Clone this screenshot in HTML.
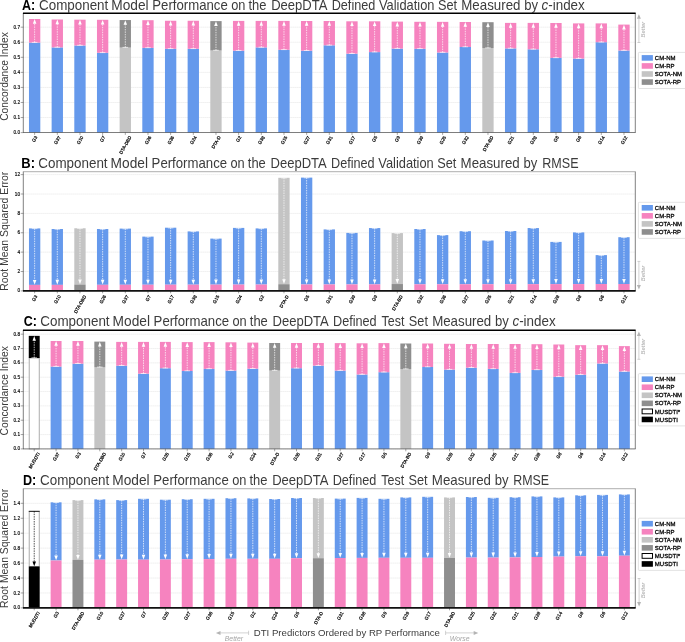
<!DOCTYPE html>
<html><head><meta charset="utf-8"><title>Component Model Performance</title>
<style>
html,body{margin:0;padding:0;background:#fff;}
body{width:685px;height:642px;overflow:hidden;}
svg{display:block;font-family:"Liberation Sans",sans-serif;}
</style></head><body>
<svg width="685" height="642" viewBox="0 0 685 642">
<rect width="685" height="642" fill="#fff"/>
<line x1="23.3" x2="635.3" y1="132.60" y2="132.60" stroke="#d4d4d4" stroke-width="0.5" stroke-dasharray="1.2 0.8"/>
<line x1="23.3" x2="635.3" y1="117.54" y2="117.54" stroke="#d4d4d4" stroke-width="0.5" stroke-dasharray="1.2 0.8"/>
<line x1="23.3" x2="635.3" y1="102.48" y2="102.48" stroke="#d4d4d4" stroke-width="0.5" stroke-dasharray="1.2 0.8"/>
<line x1="23.3" x2="635.3" y1="87.42" y2="87.42" stroke="#d4d4d4" stroke-width="0.5" stroke-dasharray="1.2 0.8"/>
<line x1="23.3" x2="635.3" y1="72.36" y2="72.36" stroke="#d4d4d4" stroke-width="0.5" stroke-dasharray="1.2 0.8"/>
<line x1="23.3" x2="635.3" y1="57.30" y2="57.30" stroke="#d4d4d4" stroke-width="0.5" stroke-dasharray="1.2 0.8"/>
<line x1="23.3" x2="635.3" y1="42.24" y2="42.24" stroke="#d4d4d4" stroke-width="0.5" stroke-dasharray="1.2 0.8"/>
<line x1="23.3" x2="635.3" y1="27.18" y2="27.18" stroke="#d4d4d4" stroke-width="0.5" stroke-dasharray="1.2 0.8"/>
<rect x="28.97" y="42.60" width="11.33" height="89.90" fill="#6599ec"/>
<rect x="28.97" y="19.00" width="11.33" height="23.60" fill="#f683bf"/>
<line x1="34.63" x2="34.63" y1="42.60" y2="22.00" stroke="#fff" stroke-width="0.68" stroke-dasharray="1.5 0.95"/>
<path d="M34.63 19.10 L36.38 23.80 L32.88 23.80 Z" fill="#fff"/>
<line x1="31.83" x2="37.43" y1="42.40" y2="42.40" stroke="#fff" stroke-width="0.65"/>
<rect x="51.63" y="47.40" width="11.33" height="85.10" fill="#6599ec"/>
<rect x="51.63" y="19.50" width="11.33" height="27.90" fill="#f683bf"/>
<line x1="57.30" x2="57.30" y1="47.40" y2="22.50" stroke="#fff" stroke-width="0.68" stroke-dasharray="1.5 0.95"/>
<path d="M57.30 19.60 L59.05 24.30 L55.55 24.30 Z" fill="#fff"/>
<line x1="54.50" x2="60.10" y1="47.20" y2="47.20" stroke="#fff" stroke-width="0.65"/>
<rect x="74.30" y="45.50" width="11.33" height="87.00" fill="#6599ec"/>
<rect x="74.30" y="19.70" width="11.33" height="25.80" fill="#f683bf"/>
<line x1="79.97" x2="79.97" y1="45.50" y2="22.70" stroke="#fff" stroke-width="0.68" stroke-dasharray="1.5 0.95"/>
<path d="M79.97 19.80 L81.72 24.50 L78.22 24.50 Z" fill="#fff"/>
<line x1="77.17" x2="82.77" y1="45.30" y2="45.30" stroke="#fff" stroke-width="0.65"/>
<rect x="96.97" y="52.80" width="11.33" height="79.70" fill="#6599ec"/>
<rect x="96.97" y="19.80" width="11.33" height="33.00" fill="#f683bf"/>
<line x1="102.63" x2="102.63" y1="52.80" y2="22.80" stroke="#fff" stroke-width="0.68" stroke-dasharray="1.5 0.95"/>
<path d="M102.63 19.90 L104.38 24.60 L100.88 24.60 Z" fill="#fff"/>
<line x1="99.83" x2="105.43" y1="52.60" y2="52.60" stroke="#fff" stroke-width="0.65"/>
<rect x="119.63" y="47.60" width="11.33" height="84.90" fill="#c4c4c4"/>
<rect x="119.63" y="20.05" width="11.33" height="27.55" fill="#8e8e8e"/>
<line x1="125.30" x2="125.30" y1="47.60" y2="23.05" stroke="#fff" stroke-width="0.68" stroke-dasharray="1.5 0.95"/>
<path d="M125.30 20.15 L127.05 24.85 L123.55 24.85 Z" fill="#fff"/>
<line x1="122.50" x2="128.10" y1="47.40" y2="47.40" stroke="#fff" stroke-width="0.65"/>
<rect x="142.30" y="47.90" width="11.33" height="84.60" fill="#6599ec"/>
<rect x="142.30" y="20.20" width="11.33" height="27.70" fill="#f683bf"/>
<line x1="147.97" x2="147.97" y1="47.90" y2="23.20" stroke="#fff" stroke-width="0.68" stroke-dasharray="1.5 0.95"/>
<path d="M147.97 20.30 L149.72 25.00 L146.22 25.00 Z" fill="#fff"/>
<line x1="145.17" x2="150.77" y1="47.70" y2="47.70" stroke="#fff" stroke-width="0.65"/>
<rect x="164.97" y="48.80" width="11.33" height="83.70" fill="#6599ec"/>
<rect x="164.97" y="20.75" width="11.33" height="28.05" fill="#f683bf"/>
<line x1="170.63" x2="170.63" y1="48.80" y2="23.75" stroke="#fff" stroke-width="0.68" stroke-dasharray="1.5 0.95"/>
<path d="M170.63 20.85 L172.38 25.55 L168.88 25.55 Z" fill="#fff"/>
<line x1="167.83" x2="173.43" y1="48.60" y2="48.60" stroke="#fff" stroke-width="0.65"/>
<rect x="187.63" y="48.80" width="11.33" height="83.70" fill="#6599ec"/>
<rect x="187.63" y="20.75" width="11.33" height="28.05" fill="#f683bf"/>
<line x1="193.30" x2="193.30" y1="48.80" y2="23.75" stroke="#fff" stroke-width="0.68" stroke-dasharray="1.5 0.95"/>
<path d="M193.30 20.85 L195.05 25.55 L191.55 25.55 Z" fill="#fff"/>
<line x1="190.50" x2="196.10" y1="48.60" y2="48.60" stroke="#fff" stroke-width="0.65"/>
<rect x="210.30" y="50.50" width="11.33" height="82.00" fill="#c4c4c4"/>
<rect x="210.30" y="21.10" width="11.33" height="29.40" fill="#8e8e8e"/>
<line x1="215.97" x2="215.97" y1="50.50" y2="24.10" stroke="#fff" stroke-width="0.68" stroke-dasharray="1.5 0.95"/>
<path d="M215.97 21.20 L217.72 25.90 L214.22 25.90 Z" fill="#fff"/>
<line x1="213.17" x2="218.77" y1="50.30" y2="50.30" stroke="#fff" stroke-width="0.65"/>
<rect x="232.97" y="50.70" width="11.33" height="81.80" fill="#6599ec"/>
<rect x="232.97" y="20.90" width="11.33" height="29.80" fill="#f683bf"/>
<line x1="238.63" x2="238.63" y1="50.70" y2="23.90" stroke="#fff" stroke-width="0.68" stroke-dasharray="1.5 0.95"/>
<path d="M238.63 21.00 L240.38 25.70 L236.88 25.70 Z" fill="#fff"/>
<line x1="235.83" x2="241.43" y1="50.50" y2="50.50" stroke="#fff" stroke-width="0.65"/>
<rect x="255.63" y="47.40" width="11.33" height="85.10" fill="#6599ec"/>
<rect x="255.63" y="20.90" width="11.33" height="26.50" fill="#f683bf"/>
<line x1="261.30" x2="261.30" y1="47.40" y2="23.90" stroke="#fff" stroke-width="0.68" stroke-dasharray="1.5 0.95"/>
<path d="M261.30 21.00 L263.05 25.70 L259.55 25.70 Z" fill="#fff"/>
<line x1="258.50" x2="264.10" y1="47.20" y2="47.20" stroke="#fff" stroke-width="0.65"/>
<rect x="278.30" y="49.80" width="11.33" height="82.70" fill="#6599ec"/>
<rect x="278.30" y="20.90" width="11.33" height="28.90" fill="#f683bf"/>
<line x1="283.97" x2="283.97" y1="49.80" y2="23.90" stroke="#fff" stroke-width="0.68" stroke-dasharray="1.5 0.95"/>
<path d="M283.97 21.00 L285.72 25.70 L282.22 25.70 Z" fill="#fff"/>
<line x1="281.17" x2="286.77" y1="49.60" y2="49.60" stroke="#fff" stroke-width="0.65"/>
<rect x="300.97" y="50.70" width="11.33" height="81.80" fill="#6599ec"/>
<rect x="300.97" y="21.00" width="11.33" height="29.70" fill="#f683bf"/>
<line x1="306.63" x2="306.63" y1="50.70" y2="24.00" stroke="#fff" stroke-width="0.68" stroke-dasharray="1.5 0.95"/>
<path d="M306.63 21.10 L308.38 25.80 L304.88 25.80 Z" fill="#fff"/>
<line x1="303.83" x2="309.43" y1="50.50" y2="50.50" stroke="#fff" stroke-width="0.65"/>
<rect x="323.63" y="45.30" width="11.33" height="87.20" fill="#6599ec"/>
<rect x="323.63" y="21.00" width="11.33" height="24.30" fill="#f683bf"/>
<line x1="329.30" x2="329.30" y1="45.30" y2="24.00" stroke="#fff" stroke-width="0.68" stroke-dasharray="1.5 0.95"/>
<path d="M329.30 21.10 L331.05 25.80 L327.55 25.80 Z" fill="#fff"/>
<line x1="326.50" x2="332.10" y1="45.10" y2="45.10" stroke="#fff" stroke-width="0.65"/>
<rect x="346.30" y="53.70" width="11.33" height="78.80" fill="#6599ec"/>
<rect x="346.30" y="21.30" width="11.33" height="32.40" fill="#f683bf"/>
<line x1="351.97" x2="351.97" y1="53.70" y2="24.30" stroke="#fff" stroke-width="0.68" stroke-dasharray="1.5 0.95"/>
<path d="M351.97 21.40 L353.72 26.10 L350.22 26.10 Z" fill="#fff"/>
<line x1="349.17" x2="354.77" y1="53.50" y2="53.50" stroke="#fff" stroke-width="0.65"/>
<rect x="368.97" y="52.10" width="11.33" height="80.40" fill="#6599ec"/>
<rect x="368.97" y="21.30" width="11.33" height="30.80" fill="#f683bf"/>
<line x1="374.63" x2="374.63" y1="52.10" y2="24.30" stroke="#fff" stroke-width="0.68" stroke-dasharray="1.5 0.95"/>
<path d="M374.63 21.40 L376.38 26.10 L372.88 26.10 Z" fill="#fff"/>
<line x1="371.83" x2="377.43" y1="51.90" y2="51.90" stroke="#fff" stroke-width="0.65"/>
<rect x="391.63" y="48.60" width="11.33" height="83.90" fill="#6599ec"/>
<rect x="391.63" y="21.60" width="11.33" height="27.00" fill="#f683bf"/>
<line x1="397.30" x2="397.30" y1="48.60" y2="24.60" stroke="#fff" stroke-width="0.68" stroke-dasharray="1.5 0.95"/>
<path d="M397.30 21.70 L399.05 26.40 L395.55 26.40 Z" fill="#fff"/>
<line x1="394.50" x2="400.10" y1="48.40" y2="48.40" stroke="#fff" stroke-width="0.65"/>
<rect x="414.30" y="48.80" width="11.33" height="83.70" fill="#6599ec"/>
<rect x="414.30" y="21.80" width="11.33" height="27.00" fill="#f683bf"/>
<line x1="419.97" x2="419.97" y1="48.80" y2="24.80" stroke="#fff" stroke-width="0.68" stroke-dasharray="1.5 0.95"/>
<path d="M419.97 21.90 L421.72 26.60 L418.22 26.60 Z" fill="#fff"/>
<line x1="417.17" x2="422.77" y1="48.60" y2="48.60" stroke="#fff" stroke-width="0.65"/>
<rect x="436.97" y="52.50" width="11.33" height="80.00" fill="#6599ec"/>
<rect x="436.97" y="21.85" width="11.33" height="30.65" fill="#f683bf"/>
<line x1="442.63" x2="442.63" y1="52.50" y2="24.85" stroke="#fff" stroke-width="0.68" stroke-dasharray="1.5 0.95"/>
<path d="M442.63 21.95 L444.38 26.65 L440.88 26.65 Z" fill="#fff"/>
<line x1="439.83" x2="445.43" y1="52.30" y2="52.30" stroke="#fff" stroke-width="0.65"/>
<rect x="459.63" y="47.00" width="11.33" height="85.50" fill="#6599ec"/>
<rect x="459.63" y="22.00" width="11.33" height="25.00" fill="#f683bf"/>
<line x1="465.30" x2="465.30" y1="47.00" y2="25.00" stroke="#fff" stroke-width="0.68" stroke-dasharray="1.5 0.95"/>
<path d="M465.30 22.10 L467.05 26.80 L463.55 26.80 Z" fill="#fff"/>
<line x1="462.50" x2="468.10" y1="46.80" y2="46.80" stroke="#fff" stroke-width="0.65"/>
<rect x="482.30" y="48.10" width="11.33" height="84.40" fill="#c4c4c4"/>
<rect x="482.30" y="22.20" width="11.33" height="25.90" fill="#8e8e8e"/>
<line x1="487.97" x2="487.97" y1="48.10" y2="25.20" stroke="#fff" stroke-width="0.68" stroke-dasharray="1.5 0.95"/>
<path d="M487.97 22.30 L489.72 27.00 L486.22 27.00 Z" fill="#fff"/>
<line x1="485.17" x2="490.77" y1="47.90" y2="47.90" stroke="#fff" stroke-width="0.65"/>
<rect x="504.97" y="48.40" width="11.33" height="84.10" fill="#6599ec"/>
<rect x="504.97" y="22.90" width="11.33" height="25.50" fill="#f683bf"/>
<line x1="510.63" x2="510.63" y1="48.40" y2="25.90" stroke="#fff" stroke-width="0.68" stroke-dasharray="1.5 0.95"/>
<path d="M510.63 23.00 L512.38 27.70 L508.88 27.70 Z" fill="#fff"/>
<line x1="507.83" x2="513.43" y1="48.20" y2="48.20" stroke="#fff" stroke-width="0.65"/>
<rect x="527.63" y="49.30" width="11.33" height="83.20" fill="#6599ec"/>
<rect x="527.63" y="22.90" width="11.33" height="26.40" fill="#f683bf"/>
<line x1="533.30" x2="533.30" y1="49.30" y2="25.90" stroke="#fff" stroke-width="0.68" stroke-dasharray="1.5 0.95"/>
<path d="M533.30 23.00 L535.05 27.70 L531.55 27.70 Z" fill="#fff"/>
<line x1="530.50" x2="536.10" y1="49.10" y2="49.10" stroke="#fff" stroke-width="0.65"/>
<rect x="550.30" y="57.90" width="11.33" height="74.60" fill="#6599ec"/>
<rect x="550.30" y="23.00" width="11.33" height="34.90" fill="#f683bf"/>
<line x1="555.97" x2="555.97" y1="57.90" y2="26.00" stroke="#fff" stroke-width="0.68" stroke-dasharray="1.5 0.95"/>
<path d="M555.97 23.10 L557.72 27.80 L554.22 27.80 Z" fill="#fff"/>
<line x1="553.17" x2="558.77" y1="57.70" y2="57.70" stroke="#fff" stroke-width="0.65"/>
<rect x="572.97" y="58.60" width="11.33" height="73.90" fill="#6599ec"/>
<rect x="572.97" y="23.40" width="11.33" height="35.20" fill="#f683bf"/>
<line x1="578.63" x2="578.63" y1="58.60" y2="26.40" stroke="#fff" stroke-width="0.68" stroke-dasharray="1.5 0.95"/>
<path d="M578.63 23.50 L580.38 28.20 L576.88 28.20 Z" fill="#fff"/>
<line x1="575.83" x2="581.43" y1="58.40" y2="58.40" stroke="#fff" stroke-width="0.65"/>
<rect x="595.63" y="42.20" width="11.33" height="90.30" fill="#6599ec"/>
<rect x="595.63" y="23.40" width="11.33" height="18.80" fill="#f683bf"/>
<line x1="601.30" x2="601.30" y1="42.20" y2="26.40" stroke="#fff" stroke-width="0.68" stroke-dasharray="1.5 0.95"/>
<path d="M601.30 23.50 L603.05 28.20 L599.55 28.20 Z" fill="#fff"/>
<line x1="598.50" x2="604.10" y1="42.00" y2="42.00" stroke="#fff" stroke-width="0.65"/>
<rect x="618.30" y="50.50" width="11.33" height="82.00" fill="#6599ec"/>
<rect x="618.30" y="24.60" width="11.33" height="25.90" fill="#f683bf"/>
<line x1="623.97" x2="623.97" y1="50.50" y2="27.60" stroke="#fff" stroke-width="0.68" stroke-dasharray="1.5 0.95"/>
<path d="M623.97 24.70 L625.72 29.40 L622.22 29.40 Z" fill="#fff"/>
<line x1="621.17" x2="626.77" y1="50.30" y2="50.30" stroke="#fff" stroke-width="0.65"/>
<line x1="23.3" x2="23.3" y1="13.3" y2="132.5" stroke="#4a4a4a" stroke-width="0.7"/>
<line x1="635.3" x2="635.3" y1="13.3" y2="132.5" stroke="#4a4a4a" stroke-width="0.7"/>
<line x1="22.95" x2="635.65" y1="132.5" y2="132.5" stroke="#4a4a4a" stroke-width="0.7"/>
<line x1="20.70" x2="23.3" y1="132.60" y2="132.60" stroke="#4a4a4a" stroke-width="0.5"/>
<text x="20.00" y="134.15" font-size="4.7" text-anchor="end" fill="#000" stroke="#000" stroke-width="0.15">0.0</text>
<line x1="20.70" x2="23.3" y1="117.54" y2="117.54" stroke="#4a4a4a" stroke-width="0.5"/>
<text x="20.00" y="119.09" font-size="4.7" text-anchor="end" fill="#000" stroke="#000" stroke-width="0.15">0.1</text>
<line x1="20.70" x2="23.3" y1="102.48" y2="102.48" stroke="#4a4a4a" stroke-width="0.5"/>
<text x="20.00" y="104.03" font-size="4.7" text-anchor="end" fill="#000" stroke="#000" stroke-width="0.15">0.2</text>
<line x1="20.70" x2="23.3" y1="87.42" y2="87.42" stroke="#4a4a4a" stroke-width="0.5"/>
<text x="20.00" y="88.97" font-size="4.7" text-anchor="end" fill="#000" stroke="#000" stroke-width="0.15">0.3</text>
<line x1="20.70" x2="23.3" y1="72.36" y2="72.36" stroke="#4a4a4a" stroke-width="0.5"/>
<text x="20.00" y="73.91" font-size="4.7" text-anchor="end" fill="#000" stroke="#000" stroke-width="0.15">0.4</text>
<line x1="20.70" x2="23.3" y1="57.30" y2="57.30" stroke="#4a4a4a" stroke-width="0.5"/>
<text x="20.00" y="58.85" font-size="4.7" text-anchor="end" fill="#000" stroke="#000" stroke-width="0.15">0.5</text>
<line x1="20.70" x2="23.3" y1="42.24" y2="42.24" stroke="#4a4a4a" stroke-width="0.5"/>
<text x="20.00" y="43.79" font-size="4.7" text-anchor="end" fill="#000" stroke="#000" stroke-width="0.15">0.6</text>
<line x1="20.70" x2="23.3" y1="27.18" y2="27.18" stroke="#4a4a4a" stroke-width="0.5"/>
<text x="20.00" y="28.73" font-size="4.7" text-anchor="end" fill="#000" stroke="#000" stroke-width="0.15">0.7</text>
<line x1="34.63" x2="34.63" y1="132.5" y2="134.90" stroke="#4a4a4a" stroke-width="0.5"/>
<text transform="translate(34.63 138.98) rotate(-60)" x="0" y="1.66" font-size="4.6" text-anchor="middle" fill="#000" stroke="#000" stroke-width="0.2">G3</text>
<line x1="57.30" x2="57.30" y1="132.5" y2="134.90" stroke="#4a4a4a" stroke-width="0.5"/>
<text transform="translate(57.30 140.09) rotate(-60)" x="0" y="1.66" font-size="4.6" text-anchor="middle" fill="#000" stroke="#000" stroke-width="0.2">G37</text>
<line x1="79.97" x2="79.97" y1="132.5" y2="134.90" stroke="#4a4a4a" stroke-width="0.5"/>
<text transform="translate(79.97 140.09) rotate(-60)" x="0" y="1.66" font-size="4.6" text-anchor="middle" fill="#000" stroke="#000" stroke-width="0.2">G10</text>
<line x1="102.63" x2="102.63" y1="132.5" y2="134.90" stroke="#4a4a4a" stroke-width="0.5"/>
<text transform="translate(102.63 138.98) rotate(-60)" x="0" y="1.66" font-size="4.6" text-anchor="middle" fill="#000" stroke="#000" stroke-width="0.2">G7</text>
<line x1="125.30" x2="125.30" y1="132.5" y2="134.90" stroke="#4a4a4a" stroke-width="0.5"/>
<text transform="translate(125.30 145.03) rotate(-60)" x="0" y="1.66" font-size="4.6" text-anchor="middle" fill="#000" stroke="#000" stroke-width="0.2">DTA-DBD</text>
<line x1="147.97" x2="147.97" y1="132.5" y2="134.90" stroke="#4a4a4a" stroke-width="0.5"/>
<text transform="translate(147.97 140.09) rotate(-60)" x="0" y="1.66" font-size="4.6" text-anchor="middle" fill="#000" stroke="#000" stroke-width="0.2">G26</text>
<line x1="170.63" x2="170.63" y1="132.5" y2="134.90" stroke="#4a4a4a" stroke-width="0.5"/>
<text transform="translate(170.63 140.09) rotate(-60)" x="0" y="1.66" font-size="4.6" text-anchor="middle" fill="#000" stroke="#000" stroke-width="0.2">G36</text>
<line x1="193.30" x2="193.30" y1="132.5" y2="134.90" stroke="#4a4a4a" stroke-width="0.5"/>
<text transform="translate(193.30 140.09) rotate(-60)" x="0" y="1.66" font-size="4.6" text-anchor="middle" fill="#000" stroke="#000" stroke-width="0.2">G24</text>
<line x1="215.97" x2="215.97" y1="132.5" y2="134.90" stroke="#4a4a4a" stroke-width="0.5"/>
<text transform="translate(215.97 142.27) rotate(-60)" x="0" y="1.66" font-size="4.6" text-anchor="middle" fill="#000" stroke="#000" stroke-width="0.2">DTA-D</text>
<line x1="238.63" x2="238.63" y1="132.5" y2="134.90" stroke="#4a4a4a" stroke-width="0.5"/>
<text transform="translate(238.63 138.98) rotate(-60)" x="0" y="1.66" font-size="4.6" text-anchor="middle" fill="#000" stroke="#000" stroke-width="0.2">G2</text>
<line x1="261.30" x2="261.30" y1="132.5" y2="134.90" stroke="#4a4a4a" stroke-width="0.5"/>
<text transform="translate(261.30 140.09) rotate(-60)" x="0" y="1.66" font-size="4.6" text-anchor="middle" fill="#000" stroke="#000" stroke-width="0.2">G38</text>
<line x1="283.97" x2="283.97" y1="132.5" y2="134.90" stroke="#4a4a4a" stroke-width="0.5"/>
<text transform="translate(283.97 140.09) rotate(-60)" x="0" y="1.66" font-size="4.6" text-anchor="middle" fill="#000" stroke="#000" stroke-width="0.2">G15</text>
<line x1="306.63" x2="306.63" y1="132.5" y2="134.90" stroke="#4a4a4a" stroke-width="0.5"/>
<text transform="translate(306.63 140.09) rotate(-60)" x="0" y="1.66" font-size="4.6" text-anchor="middle" fill="#000" stroke="#000" stroke-width="0.2">G27</text>
<line x1="329.30" x2="329.30" y1="132.5" y2="134.90" stroke="#4a4a4a" stroke-width="0.5"/>
<text transform="translate(329.30 140.09) rotate(-60)" x="0" y="1.66" font-size="4.6" text-anchor="middle" fill="#000" stroke="#000" stroke-width="0.2">G31</text>
<line x1="351.97" x2="351.97" y1="132.5" y2="134.90" stroke="#4a4a4a" stroke-width="0.5"/>
<text transform="translate(351.97 140.09) rotate(-60)" x="0" y="1.66" font-size="4.6" text-anchor="middle" fill="#000" stroke="#000" stroke-width="0.2">G17</text>
<line x1="374.63" x2="374.63" y1="132.5" y2="134.90" stroke="#4a4a4a" stroke-width="0.5"/>
<text transform="translate(374.63 138.98) rotate(-60)" x="0" y="1.66" font-size="4.6" text-anchor="middle" fill="#000" stroke="#000" stroke-width="0.2">G5</text>
<line x1="397.30" x2="397.30" y1="132.5" y2="134.90" stroke="#4a4a4a" stroke-width="0.5"/>
<text transform="translate(397.30 138.98) rotate(-60)" x="0" y="1.66" font-size="4.6" text-anchor="middle" fill="#000" stroke="#000" stroke-width="0.2">G9</text>
<line x1="419.97" x2="419.97" y1="132.5" y2="134.90" stroke="#4a4a4a" stroke-width="0.5"/>
<text transform="translate(419.97 140.09) rotate(-60)" x="0" y="1.66" font-size="4.6" text-anchor="middle" fill="#000" stroke="#000" stroke-width="0.2">G39</text>
<line x1="442.63" x2="442.63" y1="132.5" y2="134.90" stroke="#4a4a4a" stroke-width="0.5"/>
<text transform="translate(442.63 140.09) rotate(-60)" x="0" y="1.66" font-size="4.6" text-anchor="middle" fill="#000" stroke="#000" stroke-width="0.2">G25</text>
<line x1="465.30" x2="465.30" y1="132.5" y2="134.90" stroke="#4a4a4a" stroke-width="0.5"/>
<text transform="translate(465.30 140.09) rotate(-60)" x="0" y="1.66" font-size="4.6" text-anchor="middle" fill="#000" stroke="#000" stroke-width="0.2">G32</text>
<line x1="487.97" x2="487.97" y1="132.5" y2="134.90" stroke="#4a4a4a" stroke-width="0.5"/>
<text transform="translate(487.97 143.59) rotate(-60)" x="0" y="1.66" font-size="4.6" text-anchor="middle" fill="#000" stroke="#000" stroke-width="0.2">DTA-BD</text>
<line x1="510.63" x2="510.63" y1="132.5" y2="134.90" stroke="#4a4a4a" stroke-width="0.5"/>
<text transform="translate(510.63 140.09) rotate(-60)" x="0" y="1.66" font-size="4.6" text-anchor="middle" fill="#000" stroke="#000" stroke-width="0.2">G21</text>
<line x1="533.30" x2="533.30" y1="132.5" y2="134.90" stroke="#4a4a4a" stroke-width="0.5"/>
<text transform="translate(533.30 140.09) rotate(-60)" x="0" y="1.66" font-size="4.6" text-anchor="middle" fill="#000" stroke="#000" stroke-width="0.2">G28</text>
<line x1="555.97" x2="555.97" y1="132.5" y2="134.90" stroke="#4a4a4a" stroke-width="0.5"/>
<text transform="translate(555.97 138.98) rotate(-60)" x="0" y="1.66" font-size="4.6" text-anchor="middle" fill="#000" stroke="#000" stroke-width="0.2">G8</text>
<line x1="578.63" x2="578.63" y1="132.5" y2="134.90" stroke="#4a4a4a" stroke-width="0.5"/>
<text transform="translate(578.63 138.98) rotate(-60)" x="0" y="1.66" font-size="4.6" text-anchor="middle" fill="#000" stroke="#000" stroke-width="0.2">G6</text>
<line x1="601.30" x2="601.30" y1="132.5" y2="134.90" stroke="#4a4a4a" stroke-width="0.5"/>
<text transform="translate(601.30 140.09) rotate(-60)" x="0" y="1.66" font-size="4.6" text-anchor="middle" fill="#000" stroke="#000" stroke-width="0.2">G14</text>
<line x1="623.97" x2="623.97" y1="132.5" y2="134.90" stroke="#4a4a4a" stroke-width="0.5"/>
<text transform="translate(623.97 140.09) rotate(-60)" x="0" y="1.66" font-size="4.6" text-anchor="middle" fill="#000" stroke="#000" stroke-width="0.2">G12</text>
<line x1="22.95" x2="635.65" y1="13.3" y2="13.3" stroke="#000" stroke-width="1.4"/>
<text x="22.00" y="9.9" font-size="14.5" font-weight="bold" textLength="13.20" lengthAdjust="spacingAndGlyphs" fill="#000">A:</text>
<text x="39.00" y="9.9" font-size="14.5" textLength="69.30" lengthAdjust="spacingAndGlyphs" fill="#3c3c3c">Component</text>
<text x="111.30" y="9.9" font-size="14.5" textLength="37.38" lengthAdjust="spacingAndGlyphs" fill="#3c3c3c">Model</text>
<text x="152.30" y="9.9" font-size="14.5" textLength="75.50" lengthAdjust="spacingAndGlyphs" fill="#3c3c3c">Performance</text>
<text x="231.20" y="9.9" font-size="14.5" textLength="14.23" lengthAdjust="spacingAndGlyphs" fill="#3c3c3c">on</text>
<text x="248.50" y="9.9" font-size="14.5" textLength="18.00" lengthAdjust="spacingAndGlyphs" fill="#3c3c3c">the</text>
<text x="271.20" y="9.9" font-size="14.5" textLength="56.26" lengthAdjust="spacingAndGlyphs" fill="#3c3c3c">DeepDTA</text>
<text x="331.70" y="9.9" font-size="14.5" textLength="43.62" lengthAdjust="spacingAndGlyphs" fill="#3c3c3c">Defined</text>
<text x="379.00" y="9.9" font-size="14.5" textLength="55.47" lengthAdjust="spacingAndGlyphs" fill="#3c3c3c">Validation</text>
<text x="438.00" y="9.9" font-size="14.5" textLength="19.11" lengthAdjust="spacingAndGlyphs" fill="#3c3c3c">Set</text>
<text x="461.30" y="9.9" font-size="14.5" textLength="59.13" lengthAdjust="spacingAndGlyphs" fill="#3c3c3c">Measured</text>
<text x="524.20" y="9.9" font-size="14.5" textLength="13.82" lengthAdjust="spacingAndGlyphs" fill="#3c3c3c">by</text>
<text x="541.60" y="9.9" font-size="14.5" textLength="43.18" lengthAdjust="spacingAndGlyphs" fill="#3c3c3c"><tspan font-style="italic">c</tspan>-index</text>
<text transform="translate(8.0 76.50) rotate(-90)" font-size="11.7" text-anchor="middle" textLength="88.6" lengthAdjust="spacingAndGlyphs" fill="#3c3c3c">Concordance Index</text>
<line x1="638.9" x2="638.9" y1="17.20" y2="42.5" stroke="#b4b4b4" stroke-width="0.6"/>
<path d="M638.9 14.2 L640.9 18.799999999999997 L636.9 18.799999999999997 Z" fill="#b4b4b4"/>
<line x1="637.4" x2="640.4" y1="42.5" y2="42.5" stroke="#b4b4b4" stroke-width="0.6"/>
<text transform="translate(644.9 29.55) rotate(-90)" font-size="5.9" font-style="italic" text-anchor="middle" fill="#a6a6a6">Better</text>
<rect x="638.4" y="52.4" width="60" height="36.10" fill="#fff" stroke="#d0d0d0" stroke-width="0.6" rx="0.8"/>
<rect x="641.7" y="55.10" width="11.2" height="5.6" fill="#6599ec"/>
<text x="654.8" y="60.00" font-size="6" fill="#111" stroke="#000" stroke-width="0.28">CM-NM</text>
<rect x="641.7" y="63.15" width="11.2" height="5.6" fill="#f683bf"/>
<text x="654.8" y="68.05" font-size="6" fill="#111" stroke="#000" stroke-width="0.28">CM-RP</text>
<rect x="641.7" y="71.20" width="11.2" height="5.6" fill="#c4c4c4"/>
<text x="654.8" y="76.10" font-size="6" fill="#111" stroke="#000" stroke-width="0.28">SOTA-NM</text>
<rect x="641.7" y="79.25" width="11.2" height="5.6" fill="#8e8e8e"/>
<text x="654.8" y="84.15" font-size="6" fill="#111" stroke="#000" stroke-width="0.28">SOTA-RP</text>
<line x1="23.3" x2="635.3" y1="290.90" y2="290.90" stroke="#d4d4d4" stroke-width="0.5" stroke-dasharray="1.2 0.8"/>
<line x1="23.3" x2="635.3" y1="271.52" y2="271.52" stroke="#d4d4d4" stroke-width="0.5" stroke-dasharray="1.2 0.8"/>
<line x1="23.3" x2="635.3" y1="252.14" y2="252.14" stroke="#d4d4d4" stroke-width="0.5" stroke-dasharray="1.2 0.8"/>
<line x1="23.3" x2="635.3" y1="232.76" y2="232.76" stroke="#d4d4d4" stroke-width="0.5" stroke-dasharray="1.2 0.8"/>
<line x1="23.3" x2="635.3" y1="213.38" y2="213.38" stroke="#d4d4d4" stroke-width="0.5" stroke-dasharray="1.2 0.8"/>
<line x1="23.3" x2="635.3" y1="194.00" y2="194.00" stroke="#d4d4d4" stroke-width="0.5" stroke-dasharray="1.2 0.8"/>
<line x1="23.3" x2="635.3" y1="174.62" y2="174.62" stroke="#d4d4d4" stroke-width="0.5" stroke-dasharray="1.2 0.8"/>
<rect x="28.97" y="228.40" width="11.33" height="56.50" fill="#6599ec"/>
<rect x="28.97" y="284.90" width="11.33" height="6.00" fill="#f683bf"/>
<line x1="34.63" x2="34.63" y1="228.40" y2="281.90" stroke="#fff" stroke-width="0.68" stroke-dasharray="1.5 0.95"/>
<path d="M34.63 284.70 L36.38 279.90 L32.88 279.90 Z" fill="#fff"/>
<line x1="31.83" x2="37.43" y1="228.60" y2="228.60" stroke="#fff" stroke-width="0.65"/>
<rect x="51.63" y="229.00" width="11.33" height="55.87" fill="#6599ec"/>
<rect x="51.63" y="284.87" width="11.33" height="6.03" fill="#f683bf"/>
<line x1="57.30" x2="57.30" y1="229.00" y2="281.87" stroke="#fff" stroke-width="0.68" stroke-dasharray="1.5 0.95"/>
<path d="M57.30 284.67 L59.05 279.87 L55.55 279.87 Z" fill="#fff"/>
<line x1="54.50" x2="60.10" y1="229.20" y2="229.20" stroke="#fff" stroke-width="0.65"/>
<rect x="74.30" y="228.25" width="11.33" height="56.28" fill="#c4c4c4"/>
<rect x="74.30" y="284.53" width="11.33" height="6.37" fill="#8e8e8e"/>
<line x1="79.97" x2="79.97" y1="228.25" y2="281.53" stroke="#fff" stroke-width="0.68" stroke-dasharray="1.5 0.95"/>
<path d="M79.97 284.33 L81.72 279.53 L78.22 279.53 Z" fill="#fff"/>
<line x1="77.17" x2="82.77" y1="228.45" y2="228.45" stroke="#fff" stroke-width="0.65"/>
<rect x="96.97" y="229.00" width="11.33" height="55.80" fill="#6599ec"/>
<rect x="96.97" y="284.80" width="11.33" height="6.10" fill="#f683bf"/>
<line x1="102.63" x2="102.63" y1="229.00" y2="281.80" stroke="#fff" stroke-width="0.68" stroke-dasharray="1.5 0.95"/>
<path d="M102.63 284.60 L104.38 279.80 L100.88 279.80 Z" fill="#fff"/>
<line x1="99.83" x2="105.43" y1="229.20" y2="229.20" stroke="#fff" stroke-width="0.65"/>
<rect x="119.63" y="228.60" width="11.33" height="56.16" fill="#6599ec"/>
<rect x="119.63" y="284.76" width="11.33" height="6.14" fill="#f683bf"/>
<line x1="125.30" x2="125.30" y1="228.60" y2="281.76" stroke="#fff" stroke-width="0.68" stroke-dasharray="1.5 0.95"/>
<path d="M125.30 284.56 L127.05 279.76 L123.55 279.76 Z" fill="#fff"/>
<line x1="122.50" x2="128.10" y1="228.80" y2="228.80" stroke="#fff" stroke-width="0.65"/>
<rect x="142.30" y="236.60" width="11.33" height="48.13" fill="#6599ec"/>
<rect x="142.30" y="284.73" width="11.33" height="6.17" fill="#f683bf"/>
<line x1="147.97" x2="147.97" y1="236.60" y2="281.73" stroke="#fff" stroke-width="0.68" stroke-dasharray="1.5 0.95"/>
<path d="M147.97 284.53 L149.72 279.73 L146.22 279.73 Z" fill="#fff"/>
<line x1="145.17" x2="150.77" y1="236.80" y2="236.80" stroke="#fff" stroke-width="0.65"/>
<rect x="164.97" y="227.70" width="11.33" height="56.99" fill="#6599ec"/>
<rect x="164.97" y="284.69" width="11.33" height="6.21" fill="#f683bf"/>
<line x1="170.63" x2="170.63" y1="227.70" y2="281.69" stroke="#fff" stroke-width="0.68" stroke-dasharray="1.5 0.95"/>
<path d="M170.63 284.49 L172.38 279.69 L168.88 279.69 Z" fill="#fff"/>
<line x1="167.83" x2="173.43" y1="227.90" y2="227.90" stroke="#fff" stroke-width="0.65"/>
<rect x="187.63" y="231.40" width="11.33" height="53.26" fill="#6599ec"/>
<rect x="187.63" y="284.66" width="11.33" height="6.24" fill="#f683bf"/>
<line x1="193.30" x2="193.30" y1="231.40" y2="281.66" stroke="#fff" stroke-width="0.68" stroke-dasharray="1.5 0.95"/>
<path d="M193.30 284.46 L195.05 279.66 L191.55 279.66 Z" fill="#fff"/>
<line x1="190.50" x2="196.10" y1="231.60" y2="231.60" stroke="#fff" stroke-width="0.65"/>
<rect x="210.30" y="238.60" width="11.33" height="46.02" fill="#6599ec"/>
<rect x="210.30" y="284.62" width="11.33" height="6.28" fill="#f683bf"/>
<line x1="215.97" x2="215.97" y1="238.60" y2="281.62" stroke="#fff" stroke-width="0.68" stroke-dasharray="1.5 0.95"/>
<path d="M215.97 284.42 L217.72 279.62 L214.22 279.62 Z" fill="#fff"/>
<line x1="213.17" x2="218.77" y1="238.80" y2="238.80" stroke="#fff" stroke-width="0.65"/>
<rect x="232.97" y="227.90" width="11.33" height="56.69" fill="#6599ec"/>
<rect x="232.97" y="284.59" width="11.33" height="6.31" fill="#f683bf"/>
<line x1="238.63" x2="238.63" y1="227.90" y2="281.59" stroke="#fff" stroke-width="0.68" stroke-dasharray="1.5 0.95"/>
<path d="M238.63 284.39 L240.38 279.59 L236.88 279.59 Z" fill="#fff"/>
<line x1="235.83" x2="241.43" y1="228.10" y2="228.10" stroke="#fff" stroke-width="0.65"/>
<rect x="255.63" y="228.40" width="11.33" height="56.15" fill="#6599ec"/>
<rect x="255.63" y="284.55" width="11.33" height="6.35" fill="#f683bf"/>
<line x1="261.30" x2="261.30" y1="228.40" y2="281.55" stroke="#fff" stroke-width="0.68" stroke-dasharray="1.5 0.95"/>
<path d="M261.30 284.35 L263.05 279.55 L259.55 279.55 Z" fill="#fff"/>
<line x1="258.50" x2="264.10" y1="228.60" y2="228.60" stroke="#fff" stroke-width="0.65"/>
<rect x="278.30" y="177.80" width="11.33" height="106.42" fill="#c4c4c4"/>
<rect x="278.30" y="284.22" width="11.33" height="6.68" fill="#8e8e8e"/>
<line x1="283.97" x2="283.97" y1="177.80" y2="281.22" stroke="#fff" stroke-width="0.68" stroke-dasharray="1.5 0.95"/>
<path d="M283.97 284.02 L285.72 279.22 L282.22 279.22 Z" fill="#fff"/>
<line x1="281.17" x2="286.77" y1="178.00" y2="178.00" stroke="#fff" stroke-width="0.65"/>
<rect x="300.97" y="177.60" width="11.33" height="106.88" fill="#6599ec"/>
<rect x="300.97" y="284.48" width="11.33" height="6.42" fill="#f683bf"/>
<line x1="306.63" x2="306.63" y1="177.60" y2="281.48" stroke="#fff" stroke-width="0.68" stroke-dasharray="1.5 0.95"/>
<path d="M306.63 284.28 L308.38 279.48 L304.88 279.48 Z" fill="#fff"/>
<line x1="303.83" x2="309.43" y1="177.80" y2="177.80" stroke="#fff" stroke-width="0.65"/>
<rect x="323.63" y="229.40" width="11.33" height="55.05" fill="#6599ec"/>
<rect x="323.63" y="284.45" width="11.33" height="6.45" fill="#f683bf"/>
<line x1="329.30" x2="329.30" y1="229.40" y2="281.45" stroke="#fff" stroke-width="0.68" stroke-dasharray="1.5 0.95"/>
<path d="M329.30 284.25 L331.05 279.45 L327.55 279.45 Z" fill="#fff"/>
<line x1="326.50" x2="332.10" y1="229.60" y2="229.60" stroke="#fff" stroke-width="0.65"/>
<rect x="346.30" y="232.90" width="11.33" height="51.52" fill="#6599ec"/>
<rect x="346.30" y="284.42" width="11.33" height="6.48" fill="#f683bf"/>
<line x1="351.97" x2="351.97" y1="232.90" y2="281.42" stroke="#fff" stroke-width="0.68" stroke-dasharray="1.5 0.95"/>
<path d="M351.97 284.22 L353.72 279.42 L350.22 279.42 Z" fill="#fff"/>
<line x1="349.17" x2="354.77" y1="233.10" y2="233.10" stroke="#fff" stroke-width="0.65"/>
<rect x="368.97" y="228.05" width="11.33" height="56.33" fill="#6599ec"/>
<rect x="368.97" y="284.38" width="11.33" height="6.52" fill="#f683bf"/>
<line x1="374.63" x2="374.63" y1="228.05" y2="281.38" stroke="#fff" stroke-width="0.68" stroke-dasharray="1.5 0.95"/>
<path d="M374.63 284.18 L376.38 279.38 L372.88 279.38 Z" fill="#fff"/>
<line x1="371.83" x2="377.43" y1="228.25" y2="228.25" stroke="#fff" stroke-width="0.65"/>
<rect x="391.63" y="233.10" width="11.33" height="50.95" fill="#c4c4c4"/>
<rect x="391.63" y="284.05" width="11.33" height="6.85" fill="#8e8e8e"/>
<line x1="397.30" x2="397.30" y1="233.10" y2="281.05" stroke="#fff" stroke-width="0.68" stroke-dasharray="1.5 0.95"/>
<path d="M397.30 283.85 L399.05 279.05 L395.55 279.05 Z" fill="#fff"/>
<line x1="394.50" x2="400.10" y1="233.30" y2="233.30" stroke="#fff" stroke-width="0.65"/>
<rect x="414.30" y="229.00" width="11.33" height="55.31" fill="#6599ec"/>
<rect x="414.30" y="284.31" width="11.33" height="6.59" fill="#f683bf"/>
<line x1="419.97" x2="419.97" y1="229.00" y2="281.31" stroke="#fff" stroke-width="0.68" stroke-dasharray="1.5 0.95"/>
<path d="M419.97 284.11 L421.72 279.31 L418.22 279.31 Z" fill="#fff"/>
<line x1="417.17" x2="422.77" y1="229.20" y2="229.20" stroke="#fff" stroke-width="0.65"/>
<rect x="436.97" y="235.10" width="11.33" height="49.18" fill="#6599ec"/>
<rect x="436.97" y="284.28" width="11.33" height="6.62" fill="#f683bf"/>
<line x1="442.63" x2="442.63" y1="235.10" y2="281.28" stroke="#fff" stroke-width="0.68" stroke-dasharray="1.5 0.95"/>
<path d="M442.63 284.08 L444.38 279.28 L440.88 279.28 Z" fill="#fff"/>
<line x1="439.83" x2="445.43" y1="235.30" y2="235.30" stroke="#fff" stroke-width="0.65"/>
<rect x="459.63" y="231.20" width="11.33" height="53.04" fill="#6599ec"/>
<rect x="459.63" y="284.24" width="11.33" height="6.66" fill="#f683bf"/>
<line x1="465.30" x2="465.30" y1="231.20" y2="281.24" stroke="#fff" stroke-width="0.68" stroke-dasharray="1.5 0.95"/>
<path d="M465.30 284.04 L467.05 279.24 L463.55 279.24 Z" fill="#fff"/>
<line x1="462.50" x2="468.10" y1="231.40" y2="231.40" stroke="#fff" stroke-width="0.65"/>
<rect x="482.30" y="240.50" width="11.33" height="43.71" fill="#6599ec"/>
<rect x="482.30" y="284.21" width="11.33" height="6.69" fill="#f683bf"/>
<line x1="487.97" x2="487.97" y1="240.50" y2="281.21" stroke="#fff" stroke-width="0.68" stroke-dasharray="1.5 0.95"/>
<path d="M487.97 284.01 L489.72 279.21 L486.22 279.21 Z" fill="#fff"/>
<line x1="485.17" x2="490.77" y1="240.70" y2="240.70" stroke="#fff" stroke-width="0.65"/>
<rect x="504.97" y="231.00" width="11.33" height="53.17" fill="#6599ec"/>
<rect x="504.97" y="284.17" width="11.33" height="6.73" fill="#f683bf"/>
<line x1="510.63" x2="510.63" y1="231.00" y2="281.17" stroke="#fff" stroke-width="0.68" stroke-dasharray="1.5 0.95"/>
<path d="M510.63 283.97 L512.38 279.17 L508.88 279.17 Z" fill="#fff"/>
<line x1="507.83" x2="513.43" y1="231.20" y2="231.20" stroke="#fff" stroke-width="0.65"/>
<rect x="527.63" y="228.05" width="11.33" height="56.09" fill="#6599ec"/>
<rect x="527.63" y="284.14" width="11.33" height="6.76" fill="#f683bf"/>
<line x1="533.30" x2="533.30" y1="228.05" y2="281.14" stroke="#fff" stroke-width="0.68" stroke-dasharray="1.5 0.95"/>
<path d="M533.30 283.94 L535.05 279.14 L531.55 279.14 Z" fill="#fff"/>
<line x1="530.50" x2="536.10" y1="228.25" y2="228.25" stroke="#fff" stroke-width="0.65"/>
<rect x="550.30" y="241.90" width="11.33" height="42.20" fill="#6599ec"/>
<rect x="550.30" y="284.10" width="11.33" height="6.80" fill="#f683bf"/>
<line x1="555.97" x2="555.97" y1="241.90" y2="281.10" stroke="#fff" stroke-width="0.68" stroke-dasharray="1.5 0.95"/>
<path d="M555.97 283.90 L557.72 279.10 L554.22 279.10 Z" fill="#fff"/>
<line x1="553.17" x2="558.77" y1="242.10" y2="242.10" stroke="#fff" stroke-width="0.65"/>
<rect x="572.97" y="232.40" width="11.33" height="51.67" fill="#6599ec"/>
<rect x="572.97" y="284.07" width="11.33" height="6.83" fill="#f683bf"/>
<line x1="578.63" x2="578.63" y1="232.40" y2="281.07" stroke="#fff" stroke-width="0.68" stroke-dasharray="1.5 0.95"/>
<path d="M578.63 283.87 L580.38 279.07 L576.88 279.07 Z" fill="#fff"/>
<line x1="575.83" x2="581.43" y1="232.60" y2="232.60" stroke="#fff" stroke-width="0.65"/>
<rect x="595.63" y="255.10" width="11.33" height="28.93" fill="#6599ec"/>
<rect x="595.63" y="284.03" width="11.33" height="6.87" fill="#f683bf"/>
<line x1="601.30" x2="601.30" y1="255.10" y2="281.03" stroke="#fff" stroke-width="0.68" stroke-dasharray="1.5 0.95"/>
<path d="M601.30 283.83 L603.05 279.03 L599.55 279.03 Z" fill="#fff"/>
<line x1="598.50" x2="604.10" y1="255.30" y2="255.30" stroke="#fff" stroke-width="0.65"/>
<rect x="618.30" y="237.20" width="11.33" height="46.80" fill="#6599ec"/>
<rect x="618.30" y="284.00" width="11.33" height="6.90" fill="#f683bf"/>
<line x1="623.97" x2="623.97" y1="237.20" y2="281.00" stroke="#fff" stroke-width="0.68" stroke-dasharray="1.5 0.95"/>
<path d="M623.97 283.80 L625.72 279.00 L622.22 279.00 Z" fill="#fff"/>
<line x1="621.17" x2="626.77" y1="237.40" y2="237.40" stroke="#fff" stroke-width="0.65"/>
<line x1="23.3" x2="23.3" y1="171.7" y2="290.9" stroke="#4a4a4a" stroke-width="0.7"/>
<line x1="635.3" x2="635.3" y1="171.7" y2="290.9" stroke="#4a4a4a" stroke-width="0.7"/>
<line x1="22.95" x2="635.65" y1="171.7" y2="171.7" stroke="#8c8c8c" stroke-width="0.7"/>
<line x1="20.70" x2="23.3" y1="290.90" y2="290.90" stroke="#4a4a4a" stroke-width="0.5"/>
<text x="20.00" y="292.45" font-size="4.7" text-anchor="end" fill="#000" stroke="#000" stroke-width="0.15">0</text>
<line x1="20.70" x2="23.3" y1="271.52" y2="271.52" stroke="#4a4a4a" stroke-width="0.5"/>
<text x="20.00" y="273.07" font-size="4.7" text-anchor="end" fill="#000" stroke="#000" stroke-width="0.15">2</text>
<line x1="20.70" x2="23.3" y1="252.14" y2="252.14" stroke="#4a4a4a" stroke-width="0.5"/>
<text x="20.00" y="253.69" font-size="4.7" text-anchor="end" fill="#000" stroke="#000" stroke-width="0.15">4</text>
<line x1="20.70" x2="23.3" y1="232.76" y2="232.76" stroke="#4a4a4a" stroke-width="0.5"/>
<text x="20.00" y="234.31" font-size="4.7" text-anchor="end" fill="#000" stroke="#000" stroke-width="0.15">6</text>
<line x1="20.70" x2="23.3" y1="213.38" y2="213.38" stroke="#4a4a4a" stroke-width="0.5"/>
<text x="20.00" y="214.93" font-size="4.7" text-anchor="end" fill="#000" stroke="#000" stroke-width="0.15">8</text>
<line x1="20.70" x2="23.3" y1="194.00" y2="194.00" stroke="#4a4a4a" stroke-width="0.5"/>
<text x="20.00" y="195.55" font-size="4.7" text-anchor="end" fill="#000" stroke="#000" stroke-width="0.15">10</text>
<line x1="20.70" x2="23.3" y1="174.62" y2="174.62" stroke="#4a4a4a" stroke-width="0.5"/>
<text x="20.00" y="176.17" font-size="4.7" text-anchor="end" fill="#000" stroke="#000" stroke-width="0.15">12</text>
<line x1="34.63" x2="34.63" y1="290.9" y2="293.30" stroke="#4a4a4a" stroke-width="0.5"/>
<text transform="translate(34.63 298.18) rotate(-60)" x="0" y="1.66" font-size="4.6" text-anchor="middle" fill="#000" stroke="#000" stroke-width="0.2">G3</text>
<line x1="57.30" x2="57.30" y1="290.9" y2="293.30" stroke="#4a4a4a" stroke-width="0.5"/>
<text transform="translate(57.30 299.29) rotate(-60)" x="0" y="1.66" font-size="4.6" text-anchor="middle" fill="#000" stroke="#000" stroke-width="0.2">G10</text>
<line x1="79.97" x2="79.97" y1="290.9" y2="293.30" stroke="#4a4a4a" stroke-width="0.5"/>
<text transform="translate(79.97 304.23) rotate(-60)" x="0" y="1.66" font-size="4.6" text-anchor="middle" fill="#000" stroke="#000" stroke-width="0.2">DTA-DBD</text>
<line x1="102.63" x2="102.63" y1="290.9" y2="293.30" stroke="#4a4a4a" stroke-width="0.5"/>
<text transform="translate(102.63 299.29) rotate(-60)" x="0" y="1.66" font-size="4.6" text-anchor="middle" fill="#000" stroke="#000" stroke-width="0.2">G26</text>
<line x1="125.30" x2="125.30" y1="290.9" y2="293.30" stroke="#4a4a4a" stroke-width="0.5"/>
<text transform="translate(125.30 299.29) rotate(-60)" x="0" y="1.66" font-size="4.6" text-anchor="middle" fill="#000" stroke="#000" stroke-width="0.2">G37</text>
<line x1="147.97" x2="147.97" y1="290.9" y2="293.30" stroke="#4a4a4a" stroke-width="0.5"/>
<text transform="translate(147.97 298.18) rotate(-60)" x="0" y="1.66" font-size="4.6" text-anchor="middle" fill="#000" stroke="#000" stroke-width="0.2">G7</text>
<line x1="170.63" x2="170.63" y1="290.9" y2="293.30" stroke="#4a4a4a" stroke-width="0.5"/>
<text transform="translate(170.63 299.29) rotate(-60)" x="0" y="1.66" font-size="4.6" text-anchor="middle" fill="#000" stroke="#000" stroke-width="0.2">G17</text>
<line x1="193.30" x2="193.30" y1="290.9" y2="293.30" stroke="#4a4a4a" stroke-width="0.5"/>
<text transform="translate(193.30 299.29) rotate(-60)" x="0" y="1.66" font-size="4.6" text-anchor="middle" fill="#000" stroke="#000" stroke-width="0.2">G38</text>
<line x1="215.97" x2="215.97" y1="290.9" y2="293.30" stroke="#4a4a4a" stroke-width="0.5"/>
<text transform="translate(215.97 299.29) rotate(-60)" x="0" y="1.66" font-size="4.6" text-anchor="middle" fill="#000" stroke="#000" stroke-width="0.2">G15</text>
<line x1="238.63" x2="238.63" y1="290.9" y2="293.30" stroke="#4a4a4a" stroke-width="0.5"/>
<text transform="translate(238.63 299.29) rotate(-60)" x="0" y="1.66" font-size="4.6" text-anchor="middle" fill="#000" stroke="#000" stroke-width="0.2">G24</text>
<line x1="261.30" x2="261.30" y1="290.9" y2="293.30" stroke="#4a4a4a" stroke-width="0.5"/>
<text transform="translate(261.30 298.18) rotate(-60)" x="0" y="1.66" font-size="4.6" text-anchor="middle" fill="#000" stroke="#000" stroke-width="0.2">G2</text>
<line x1="283.97" x2="283.97" y1="290.9" y2="293.30" stroke="#4a4a4a" stroke-width="0.5"/>
<text transform="translate(283.97 301.47) rotate(-60)" x="0" y="1.66" font-size="4.6" text-anchor="middle" fill="#000" stroke="#000" stroke-width="0.2">DTA-D</text>
<line x1="306.63" x2="306.63" y1="290.9" y2="293.30" stroke="#4a4a4a" stroke-width="0.5"/>
<text transform="translate(306.63 298.18) rotate(-60)" x="0" y="1.66" font-size="4.6" text-anchor="middle" fill="#000" stroke="#000" stroke-width="0.2">G5</text>
<line x1="329.30" x2="329.30" y1="290.9" y2="293.30" stroke="#4a4a4a" stroke-width="0.5"/>
<text transform="translate(329.30 299.29) rotate(-60)" x="0" y="1.66" font-size="4.6" text-anchor="middle" fill="#000" stroke="#000" stroke-width="0.2">G31</text>
<line x1="351.97" x2="351.97" y1="290.9" y2="293.30" stroke="#4a4a4a" stroke-width="0.5"/>
<text transform="translate(351.97 299.29) rotate(-60)" x="0" y="1.66" font-size="4.6" text-anchor="middle" fill="#000" stroke="#000" stroke-width="0.2">G39</text>
<line x1="374.63" x2="374.63" y1="290.9" y2="293.30" stroke="#4a4a4a" stroke-width="0.5"/>
<text transform="translate(374.63 298.18) rotate(-60)" x="0" y="1.66" font-size="4.6" text-anchor="middle" fill="#000" stroke="#000" stroke-width="0.2">G9</text>
<line x1="397.30" x2="397.30" y1="290.9" y2="293.30" stroke="#4a4a4a" stroke-width="0.5"/>
<text transform="translate(397.30 302.79) rotate(-60)" x="0" y="1.66" font-size="4.6" text-anchor="middle" fill="#000" stroke="#000" stroke-width="0.2">DTA-BD</text>
<line x1="419.97" x2="419.97" y1="290.9" y2="293.30" stroke="#4a4a4a" stroke-width="0.5"/>
<text transform="translate(419.97 299.29) rotate(-60)" x="0" y="1.66" font-size="4.6" text-anchor="middle" fill="#000" stroke="#000" stroke-width="0.2">G32</text>
<line x1="442.63" x2="442.63" y1="290.9" y2="293.30" stroke="#4a4a4a" stroke-width="0.5"/>
<text transform="translate(442.63 299.29) rotate(-60)" x="0" y="1.66" font-size="4.6" text-anchor="middle" fill="#000" stroke="#000" stroke-width="0.2">G36</text>
<line x1="465.30" x2="465.30" y1="290.9" y2="293.30" stroke="#4a4a4a" stroke-width="0.5"/>
<text transform="translate(465.30 299.29) rotate(-60)" x="0" y="1.66" font-size="4.6" text-anchor="middle" fill="#000" stroke="#000" stroke-width="0.2">G27</text>
<line x1="487.97" x2="487.97" y1="290.9" y2="293.30" stroke="#4a4a4a" stroke-width="0.5"/>
<text transform="translate(487.97 299.29) rotate(-60)" x="0" y="1.66" font-size="4.6" text-anchor="middle" fill="#000" stroke="#000" stroke-width="0.2">G25</text>
<line x1="510.63" x2="510.63" y1="290.9" y2="293.30" stroke="#4a4a4a" stroke-width="0.5"/>
<text transform="translate(510.63 299.29) rotate(-60)" x="0" y="1.66" font-size="4.6" text-anchor="middle" fill="#000" stroke="#000" stroke-width="0.2">G21</text>
<line x1="533.30" x2="533.30" y1="290.9" y2="293.30" stroke="#4a4a4a" stroke-width="0.5"/>
<text transform="translate(533.30 299.29) rotate(-60)" x="0" y="1.66" font-size="4.6" text-anchor="middle" fill="#000" stroke="#000" stroke-width="0.2">G14</text>
<line x1="555.97" x2="555.97" y1="290.9" y2="293.30" stroke="#4a4a4a" stroke-width="0.5"/>
<text transform="translate(555.97 299.29) rotate(-60)" x="0" y="1.66" font-size="4.6" text-anchor="middle" fill="#000" stroke="#000" stroke-width="0.2">G28</text>
<line x1="578.63" x2="578.63" y1="290.9" y2="293.30" stroke="#4a4a4a" stroke-width="0.5"/>
<text transform="translate(578.63 298.18) rotate(-60)" x="0" y="1.66" font-size="4.6" text-anchor="middle" fill="#000" stroke="#000" stroke-width="0.2">G8</text>
<line x1="601.30" x2="601.30" y1="290.9" y2="293.30" stroke="#4a4a4a" stroke-width="0.5"/>
<text transform="translate(601.30 298.18) rotate(-60)" x="0" y="1.66" font-size="4.6" text-anchor="middle" fill="#000" stroke="#000" stroke-width="0.2">G6</text>
<line x1="623.97" x2="623.97" y1="290.9" y2="293.30" stroke="#4a4a4a" stroke-width="0.5"/>
<text transform="translate(623.97 299.29) rotate(-60)" x="0" y="1.66" font-size="4.6" text-anchor="middle" fill="#000" stroke="#000" stroke-width="0.2">G12</text>
<line x1="22.95" x2="635.65" y1="290.9" y2="290.9" stroke="#111" stroke-width="1.6"/>
<text x="21.30" y="167.8" font-size="14.5" font-weight="bold" textLength="13.70" lengthAdjust="spacingAndGlyphs" fill="#000">B:</text>
<text x="38.30" y="167.8" font-size="14.5" textLength="69.30" lengthAdjust="spacingAndGlyphs" fill="#3c3c3c">Component</text>
<text x="110.60" y="167.8" font-size="14.5" textLength="37.38" lengthAdjust="spacingAndGlyphs" fill="#3c3c3c">Model</text>
<text x="151.60" y="167.8" font-size="14.5" textLength="75.50" lengthAdjust="spacingAndGlyphs" fill="#3c3c3c">Performance</text>
<text x="230.50" y="167.8" font-size="14.5" textLength="14.23" lengthAdjust="spacingAndGlyphs" fill="#3c3c3c">on</text>
<text x="247.80" y="167.8" font-size="14.5" textLength="18.00" lengthAdjust="spacingAndGlyphs" fill="#3c3c3c">the</text>
<text x="270.50" y="167.8" font-size="14.5" textLength="56.26" lengthAdjust="spacingAndGlyphs" fill="#3c3c3c">DeepDTA</text>
<text x="331.00" y="167.8" font-size="14.5" textLength="43.62" lengthAdjust="spacingAndGlyphs" fill="#3c3c3c">Defined</text>
<text x="378.30" y="167.8" font-size="14.5" textLength="55.47" lengthAdjust="spacingAndGlyphs" fill="#3c3c3c">Validation</text>
<text x="437.30" y="167.8" font-size="14.5" textLength="19.11" lengthAdjust="spacingAndGlyphs" fill="#3c3c3c">Set</text>
<text x="460.60" y="167.8" font-size="14.5" textLength="59.13" lengthAdjust="spacingAndGlyphs" fill="#3c3c3c">Measured</text>
<text x="523.50" y="167.8" font-size="14.5" textLength="13.82" lengthAdjust="spacingAndGlyphs" fill="#3c3c3c">by</text>
<text x="542.30" y="167.8" font-size="14.5" textLength="36.29" lengthAdjust="spacingAndGlyphs" fill="#3c3c3c">RMSE</text>
<text transform="translate(8.0 231.20) rotate(-90)" font-size="11.7" text-anchor="middle" textLength="119.0" lengthAdjust="spacingAndGlyphs" fill="#3c3c3c">Root Mean Squared Error</text>
<line x1="638.9" x2="638.9" y1="261.4" y2="286.60" stroke="#b4b4b4" stroke-width="0.6"/>
<path d="M638.9 289.6 L640.9 285.0 L636.9 285.0 Z" fill="#b4b4b4"/>
<line x1="637.4" x2="640.4" y1="261.4" y2="261.4" stroke="#b4b4b4" stroke-width="0.6"/>
<text transform="translate(644.9 273.40) rotate(-90)" font-size="5.9" font-style="italic" text-anchor="middle" fill="#a6a6a6">Better</text>
<rect x="638.4" y="202.3" width="60" height="36.10" fill="#fff" stroke="#d0d0d0" stroke-width="0.6" rx="0.8"/>
<rect x="641.7" y="205.00" width="11.2" height="5.6" fill="#6599ec"/>
<text x="654.8" y="209.90" font-size="6" fill="#111" stroke="#000" stroke-width="0.28">CM-NM</text>
<rect x="641.7" y="213.05" width="11.2" height="5.6" fill="#f683bf"/>
<text x="654.8" y="217.95" font-size="6" fill="#111" stroke="#000" stroke-width="0.28">CM-RP</text>
<rect x="641.7" y="221.10" width="11.2" height="5.6" fill="#c4c4c4"/>
<text x="654.8" y="226.00" font-size="6" fill="#111" stroke="#000" stroke-width="0.28">SOTA-NM</text>
<rect x="641.7" y="229.15" width="11.2" height="5.6" fill="#8e8e8e"/>
<text x="654.8" y="234.05" font-size="6" fill="#111" stroke="#000" stroke-width="0.28">SOTA-RP</text>
<line x1="23.3" x2="635.3" y1="448.90" y2="448.90" stroke="#d4d4d4" stroke-width="0.5" stroke-dasharray="1.2 0.8"/>
<line x1="23.3" x2="635.3" y1="434.56" y2="434.56" stroke="#d4d4d4" stroke-width="0.5" stroke-dasharray="1.2 0.8"/>
<line x1="23.3" x2="635.3" y1="420.22" y2="420.22" stroke="#d4d4d4" stroke-width="0.5" stroke-dasharray="1.2 0.8"/>
<line x1="23.3" x2="635.3" y1="405.88" y2="405.88" stroke="#d4d4d4" stroke-width="0.5" stroke-dasharray="1.2 0.8"/>
<line x1="23.3" x2="635.3" y1="391.54" y2="391.54" stroke="#d4d4d4" stroke-width="0.5" stroke-dasharray="1.2 0.8"/>
<line x1="23.3" x2="635.3" y1="377.20" y2="377.20" stroke="#d4d4d4" stroke-width="0.5" stroke-dasharray="1.2 0.8"/>
<line x1="23.3" x2="635.3" y1="362.86" y2="362.86" stroke="#d4d4d4" stroke-width="0.5" stroke-dasharray="1.2 0.8"/>
<line x1="23.3" x2="635.3" y1="348.52" y2="348.52" stroke="#d4d4d4" stroke-width="0.5" stroke-dasharray="1.2 0.8"/>
<line x1="23.3" x2="635.3" y1="334.18" y2="334.18" stroke="#d4d4d4" stroke-width="0.5" stroke-dasharray="1.2 0.8"/>
<rect x="29.21" y="358.00" width="10.03" height="90.90" fill="#fff" stroke="#a2a2a2" stroke-width="0.9"/>
<rect x="28.76" y="335.85" width="10.93" height="22.15" fill="#000000"/>
<line x1="34.23" x2="34.23" y1="358.00" y2="338.85" stroke="#fff" stroke-width="0.68" stroke-dasharray="1.5 0.95"/>
<path d="M34.23 335.95 L35.98 340.65 L32.48 340.65 Z" fill="#fff"/>
<line x1="31.43" x2="37.03" y1="357.80" y2="357.80" stroke="#fff" stroke-width="0.65"/>
<rect x="50.62" y="366.60" width="10.93" height="82.30" fill="#6599ec"/>
<rect x="50.62" y="341.00" width="10.93" height="25.60" fill="#f683bf"/>
<line x1="56.09" x2="56.09" y1="366.60" y2="344.00" stroke="#fff" stroke-width="0.68" stroke-dasharray="1.5 0.95"/>
<path d="M56.09 341.10 L57.84 345.80 L54.34 345.80 Z" fill="#fff"/>
<line x1="53.29" x2="58.89" y1="366.40" y2="366.40" stroke="#fff" stroke-width="0.65"/>
<rect x="72.48" y="363.70" width="10.93" height="85.20" fill="#6599ec"/>
<rect x="72.48" y="341.00" width="10.93" height="22.70" fill="#f683bf"/>
<line x1="77.94" x2="77.94" y1="363.70" y2="344.00" stroke="#fff" stroke-width="0.68" stroke-dasharray="1.5 0.95"/>
<path d="M77.94 341.10 L79.69 345.80 L76.19 345.80 Z" fill="#fff"/>
<line x1="75.14" x2="80.74" y1="363.50" y2="363.50" stroke="#fff" stroke-width="0.65"/>
<rect x="94.34" y="367.30" width="10.93" height="81.60" fill="#c4c4c4"/>
<rect x="94.34" y="341.60" width="10.93" height="25.70" fill="#8e8e8e"/>
<line x1="99.80" x2="99.80" y1="367.30" y2="344.60" stroke="#fff" stroke-width="0.68" stroke-dasharray="1.5 0.95"/>
<path d="M99.80 341.70 L101.55 346.40 L98.05 346.40 Z" fill="#fff"/>
<line x1="97.00" x2="102.60" y1="367.10" y2="367.10" stroke="#fff" stroke-width="0.65"/>
<rect x="116.19" y="365.70" width="10.93" height="83.20" fill="#6599ec"/>
<rect x="116.19" y="341.90" width="10.93" height="23.80" fill="#f683bf"/>
<line x1="121.66" x2="121.66" y1="365.70" y2="344.90" stroke="#fff" stroke-width="0.68" stroke-dasharray="1.5 0.95"/>
<path d="M121.66 342.00 L123.41 346.70 L119.91 346.70 Z" fill="#fff"/>
<line x1="118.86" x2="124.46" y1="365.50" y2="365.50" stroke="#fff" stroke-width="0.65"/>
<rect x="138.05" y="373.70" width="10.93" height="75.20" fill="#6599ec"/>
<rect x="138.05" y="341.90" width="10.93" height="31.80" fill="#f683bf"/>
<line x1="143.51" x2="143.51" y1="373.70" y2="344.90" stroke="#fff" stroke-width="0.68" stroke-dasharray="1.5 0.95"/>
<path d="M143.51 342.00 L145.26 346.70 L141.76 346.70 Z" fill="#fff"/>
<line x1="140.71" x2="146.31" y1="373.50" y2="373.50" stroke="#fff" stroke-width="0.65"/>
<rect x="159.91" y="368.20" width="10.93" height="80.70" fill="#6599ec"/>
<rect x="159.91" y="341.90" width="10.93" height="26.30" fill="#f683bf"/>
<line x1="165.37" x2="165.37" y1="368.20" y2="344.90" stroke="#fff" stroke-width="0.68" stroke-dasharray="1.5 0.95"/>
<path d="M165.37 342.00 L167.12 346.70 L163.62 346.70 Z" fill="#fff"/>
<line x1="162.57" x2="168.17" y1="368.00" y2="368.00" stroke="#fff" stroke-width="0.65"/>
<rect x="181.76" y="371.00" width="10.93" height="77.90" fill="#6599ec"/>
<rect x="181.76" y="342.10" width="10.93" height="28.90" fill="#f683bf"/>
<line x1="187.23" x2="187.23" y1="371.00" y2="345.10" stroke="#fff" stroke-width="0.68" stroke-dasharray="1.5 0.95"/>
<path d="M187.23 342.20 L188.98 346.90 L185.48 346.90 Z" fill="#fff"/>
<line x1="184.43" x2="190.03" y1="370.80" y2="370.80" stroke="#fff" stroke-width="0.65"/>
<rect x="203.62" y="368.90" width="10.93" height="80.00" fill="#6599ec"/>
<rect x="203.62" y="342.10" width="10.93" height="26.80" fill="#f683bf"/>
<line x1="209.09" x2="209.09" y1="368.90" y2="345.10" stroke="#fff" stroke-width="0.68" stroke-dasharray="1.5 0.95"/>
<path d="M209.09 342.20 L210.84 346.90 L207.34 346.90 Z" fill="#fff"/>
<line x1="206.29" x2="211.89" y1="368.70" y2="368.70" stroke="#fff" stroke-width="0.65"/>
<rect x="225.48" y="370.60" width="10.93" height="78.30" fill="#6599ec"/>
<rect x="225.48" y="342.30" width="10.93" height="28.30" fill="#f683bf"/>
<line x1="230.94" x2="230.94" y1="370.60" y2="345.30" stroke="#fff" stroke-width="0.68" stroke-dasharray="1.5 0.95"/>
<path d="M230.94 342.40 L232.69 347.10 L229.19 347.10 Z" fill="#fff"/>
<line x1="228.14" x2="233.74" y1="370.40" y2="370.40" stroke="#fff" stroke-width="0.65"/>
<rect x="247.34" y="368.70" width="10.93" height="80.20" fill="#6599ec"/>
<rect x="247.34" y="342.60" width="10.93" height="26.10" fill="#f683bf"/>
<line x1="252.80" x2="252.80" y1="368.70" y2="345.60" stroke="#fff" stroke-width="0.68" stroke-dasharray="1.5 0.95"/>
<path d="M252.80 342.70 L254.55 347.40 L251.05 347.40 Z" fill="#fff"/>
<line x1="250.00" x2="255.60" y1="368.50" y2="368.50" stroke="#fff" stroke-width="0.65"/>
<rect x="269.19" y="370.60" width="10.93" height="78.30" fill="#c4c4c4"/>
<rect x="269.19" y="343.00" width="10.93" height="27.60" fill="#8e8e8e"/>
<line x1="274.66" x2="274.66" y1="370.60" y2="346.00" stroke="#fff" stroke-width="0.68" stroke-dasharray="1.5 0.95"/>
<path d="M274.66 343.10 L276.41 347.80 L272.91 347.80 Z" fill="#fff"/>
<line x1="271.86" x2="277.46" y1="370.40" y2="370.40" stroke="#fff" stroke-width="0.65"/>
<rect x="291.05" y="368.20" width="10.93" height="80.70" fill="#6599ec"/>
<rect x="291.05" y="343.00" width="10.93" height="25.20" fill="#f683bf"/>
<line x1="296.51" x2="296.51" y1="368.20" y2="346.00" stroke="#fff" stroke-width="0.68" stroke-dasharray="1.5 0.95"/>
<path d="M296.51 343.10 L298.26 347.80 L294.76 347.80 Z" fill="#fff"/>
<line x1="293.71" x2="299.31" y1="368.00" y2="368.00" stroke="#fff" stroke-width="0.65"/>
<rect x="312.91" y="365.70" width="10.93" height="83.20" fill="#6599ec"/>
<rect x="312.91" y="343.00" width="10.93" height="22.70" fill="#f683bf"/>
<line x1="318.37" x2="318.37" y1="365.70" y2="346.00" stroke="#fff" stroke-width="0.68" stroke-dasharray="1.5 0.95"/>
<path d="M318.37 343.10 L320.12 347.80 L316.62 347.80 Z" fill="#fff"/>
<line x1="315.57" x2="321.17" y1="365.50" y2="365.50" stroke="#fff" stroke-width="0.65"/>
<rect x="334.76" y="370.60" width="10.93" height="78.30" fill="#6599ec"/>
<rect x="334.76" y="343.10" width="10.93" height="27.50" fill="#f683bf"/>
<line x1="340.23" x2="340.23" y1="370.60" y2="346.10" stroke="#fff" stroke-width="0.68" stroke-dasharray="1.5 0.95"/>
<path d="M340.23 343.20 L341.98 347.90 L338.48 347.90 Z" fill="#fff"/>
<line x1="337.43" x2="343.03" y1="370.40" y2="370.40" stroke="#fff" stroke-width="0.65"/>
<rect x="356.62" y="374.50" width="10.93" height="74.40" fill="#6599ec"/>
<rect x="356.62" y="343.30" width="10.93" height="31.20" fill="#f683bf"/>
<line x1="362.09" x2="362.09" y1="374.50" y2="346.30" stroke="#fff" stroke-width="0.68" stroke-dasharray="1.5 0.95"/>
<path d="M362.09 343.40 L363.84 348.10 L360.34 348.10 Z" fill="#fff"/>
<line x1="359.29" x2="364.89" y1="374.30" y2="374.30" stroke="#fff" stroke-width="0.65"/>
<rect x="378.48" y="372.20" width="10.93" height="76.70" fill="#6599ec"/>
<rect x="378.48" y="343.10" width="10.93" height="29.10" fill="#f683bf"/>
<line x1="383.94" x2="383.94" y1="372.20" y2="346.10" stroke="#fff" stroke-width="0.68" stroke-dasharray="1.5 0.95"/>
<path d="M383.94 343.20 L385.69 347.90 L382.19 347.90 Z" fill="#fff"/>
<line x1="381.14" x2="386.74" y1="372.00" y2="372.00" stroke="#fff" stroke-width="0.65"/>
<rect x="400.34" y="369.10" width="10.93" height="79.80" fill="#c4c4c4"/>
<rect x="400.34" y="343.50" width="10.93" height="25.60" fill="#8e8e8e"/>
<line x1="405.80" x2="405.80" y1="369.10" y2="346.50" stroke="#fff" stroke-width="0.68" stroke-dasharray="1.5 0.95"/>
<path d="M405.80 343.60 L407.55 348.30 L404.05 348.30 Z" fill="#fff"/>
<line x1="403.00" x2="408.60" y1="368.90" y2="368.90" stroke="#fff" stroke-width="0.65"/>
<rect x="422.19" y="367.00" width="10.93" height="81.90" fill="#6599ec"/>
<rect x="422.19" y="343.50" width="10.93" height="23.50" fill="#f683bf"/>
<line x1="427.66" x2="427.66" y1="367.00" y2="346.50" stroke="#fff" stroke-width="0.68" stroke-dasharray="1.5 0.95"/>
<path d="M427.66 343.60 L429.41 348.30 L425.91 348.30 Z" fill="#fff"/>
<line x1="424.86" x2="430.46" y1="366.80" y2="366.80" stroke="#fff" stroke-width="0.65"/>
<rect x="444.05" y="369.60" width="10.93" height="79.30" fill="#6599ec"/>
<rect x="444.05" y="343.80" width="10.93" height="25.80" fill="#f683bf"/>
<line x1="449.51" x2="449.51" y1="369.60" y2="346.80" stroke="#fff" stroke-width="0.68" stroke-dasharray="1.5 0.95"/>
<path d="M449.51 343.90 L451.26 348.60 L447.76 348.60 Z" fill="#fff"/>
<line x1="446.71" x2="452.31" y1="369.40" y2="369.40" stroke="#fff" stroke-width="0.65"/>
<rect x="465.91" y="367.70" width="10.93" height="81.20" fill="#6599ec"/>
<rect x="465.91" y="344.00" width="10.93" height="23.70" fill="#f683bf"/>
<line x1="471.37" x2="471.37" y1="367.70" y2="347.00" stroke="#fff" stroke-width="0.68" stroke-dasharray="1.5 0.95"/>
<path d="M471.37 344.10 L473.12 348.80 L469.62 348.80 Z" fill="#fff"/>
<line x1="468.57" x2="474.17" y1="367.50" y2="367.50" stroke="#fff" stroke-width="0.65"/>
<rect x="487.76" y="368.90" width="10.93" height="80.00" fill="#6599ec"/>
<rect x="487.76" y="344.00" width="10.93" height="24.90" fill="#f683bf"/>
<line x1="493.23" x2="493.23" y1="368.90" y2="347.00" stroke="#fff" stroke-width="0.68" stroke-dasharray="1.5 0.95"/>
<path d="M493.23 344.10 L494.98 348.80 L491.48 348.80 Z" fill="#fff"/>
<line x1="490.43" x2="496.03" y1="368.70" y2="368.70" stroke="#fff" stroke-width="0.65"/>
<rect x="509.62" y="372.90" width="10.93" height="76.00" fill="#6599ec"/>
<rect x="509.62" y="344.00" width="10.93" height="28.90" fill="#f683bf"/>
<line x1="515.09" x2="515.09" y1="372.90" y2="347.00" stroke="#fff" stroke-width="0.68" stroke-dasharray="1.5 0.95"/>
<path d="M515.09 344.10 L516.84 348.80 L513.34 348.80 Z" fill="#fff"/>
<line x1="512.29" x2="517.89" y1="372.70" y2="372.70" stroke="#fff" stroke-width="0.65"/>
<rect x="531.48" y="369.90" width="10.93" height="79.00" fill="#6599ec"/>
<rect x="531.48" y="344.20" width="10.93" height="25.70" fill="#f683bf"/>
<line x1="536.94" x2="536.94" y1="369.90" y2="347.20" stroke="#fff" stroke-width="0.68" stroke-dasharray="1.5 0.95"/>
<path d="M536.94 344.30 L538.69 349.00 L535.19 349.00 Z" fill="#fff"/>
<line x1="534.14" x2="539.74" y1="369.70" y2="369.70" stroke="#fff" stroke-width="0.65"/>
<rect x="553.34" y="376.80" width="10.93" height="72.10" fill="#6599ec"/>
<rect x="553.34" y="344.50" width="10.93" height="32.30" fill="#f683bf"/>
<line x1="558.80" x2="558.80" y1="376.80" y2="347.50" stroke="#fff" stroke-width="0.68" stroke-dasharray="1.5 0.95"/>
<path d="M558.80 344.60 L560.55 349.30 L557.05 349.30 Z" fill="#fff"/>
<line x1="556.00" x2="561.60" y1="376.60" y2="376.60" stroke="#fff" stroke-width="0.65"/>
<rect x="575.19" y="374.75" width="10.93" height="74.15" fill="#6599ec"/>
<rect x="575.19" y="345.15" width="10.93" height="29.60" fill="#f683bf"/>
<line x1="580.66" x2="580.66" y1="374.75" y2="348.15" stroke="#fff" stroke-width="0.68" stroke-dasharray="1.5 0.95"/>
<path d="M580.66 345.25 L582.41 349.95 L578.91 349.95 Z" fill="#fff"/>
<line x1="577.86" x2="583.46" y1="374.55" y2="374.55" stroke="#fff" stroke-width="0.65"/>
<rect x="597.05" y="363.50" width="10.93" height="85.40" fill="#6599ec"/>
<rect x="597.05" y="345.15" width="10.93" height="18.35" fill="#f683bf"/>
<line x1="602.51" x2="602.51" y1="363.50" y2="348.15" stroke="#fff" stroke-width="0.68" stroke-dasharray="1.5 0.95"/>
<path d="M602.51 345.25 L604.26 349.95 L600.76 349.95 Z" fill="#fff"/>
<line x1="599.71" x2="605.31" y1="363.30" y2="363.30" stroke="#fff" stroke-width="0.65"/>
<rect x="618.91" y="371.50" width="10.93" height="77.40" fill="#6599ec"/>
<rect x="618.91" y="346.10" width="10.93" height="25.40" fill="#f683bf"/>
<line x1="624.37" x2="624.37" y1="371.50" y2="349.10" stroke="#fff" stroke-width="0.68" stroke-dasharray="1.5 0.95"/>
<path d="M624.37 346.20 L626.12 350.90 L622.62 350.90 Z" fill="#fff"/>
<line x1="621.57" x2="627.17" y1="371.30" y2="371.30" stroke="#fff" stroke-width="0.65"/>
<line x1="23.3" x2="23.3" y1="330.3" y2="448.9" stroke="#4a4a4a" stroke-width="0.7"/>
<line x1="635.3" x2="635.3" y1="330.3" y2="448.9" stroke="#4a4a4a" stroke-width="0.7"/>
<line x1="22.95" x2="635.65" y1="448.9" y2="448.9" stroke="#4a4a4a" stroke-width="0.7"/>
<line x1="20.70" x2="23.3" y1="448.90" y2="448.90" stroke="#4a4a4a" stroke-width="0.5"/>
<text x="20.00" y="450.45" font-size="4.7" text-anchor="end" fill="#000" stroke="#000" stroke-width="0.15">0.0</text>
<line x1="20.70" x2="23.3" y1="434.56" y2="434.56" stroke="#4a4a4a" stroke-width="0.5"/>
<text x="20.00" y="436.11" font-size="4.7" text-anchor="end" fill="#000" stroke="#000" stroke-width="0.15">0.1</text>
<line x1="20.70" x2="23.3" y1="420.22" y2="420.22" stroke="#4a4a4a" stroke-width="0.5"/>
<text x="20.00" y="421.77" font-size="4.7" text-anchor="end" fill="#000" stroke="#000" stroke-width="0.15">0.2</text>
<line x1="20.70" x2="23.3" y1="405.88" y2="405.88" stroke="#4a4a4a" stroke-width="0.5"/>
<text x="20.00" y="407.43" font-size="4.7" text-anchor="end" fill="#000" stroke="#000" stroke-width="0.15">0.3</text>
<line x1="20.70" x2="23.3" y1="391.54" y2="391.54" stroke="#4a4a4a" stroke-width="0.5"/>
<text x="20.00" y="393.09" font-size="4.7" text-anchor="end" fill="#000" stroke="#000" stroke-width="0.15">0.4</text>
<line x1="20.70" x2="23.3" y1="377.20" y2="377.20" stroke="#4a4a4a" stroke-width="0.5"/>
<text x="20.00" y="378.75" font-size="4.7" text-anchor="end" fill="#000" stroke="#000" stroke-width="0.15">0.5</text>
<line x1="20.70" x2="23.3" y1="362.86" y2="362.86" stroke="#4a4a4a" stroke-width="0.5"/>
<text x="20.00" y="364.41" font-size="4.7" text-anchor="end" fill="#000" stroke="#000" stroke-width="0.15">0.6</text>
<line x1="20.70" x2="23.3" y1="348.52" y2="348.52" stroke="#4a4a4a" stroke-width="0.5"/>
<text x="20.00" y="350.07" font-size="4.7" text-anchor="end" fill="#000" stroke="#000" stroke-width="0.15">0.7</text>
<line x1="20.70" x2="23.3" y1="334.18" y2="334.18" stroke="#4a4a4a" stroke-width="0.5"/>
<text x="20.00" y="335.73" font-size="4.7" text-anchor="end" fill="#000" stroke="#000" stroke-width="0.15">0.8</text>
<line x1="34.23" x2="34.23" y1="448.9" y2="451.30" stroke="#4a4a4a" stroke-width="0.5"/>
<text transform="translate(34.23 460.46) rotate(-60)" x="0" y="1.66" font-size="4.6" text-anchor="middle" fill="#000" stroke="#000" stroke-width="0.2">MUSDTI</text>
<line x1="56.09" x2="56.09" y1="448.9" y2="451.30" stroke="#4a4a4a" stroke-width="0.5"/>
<text transform="translate(56.09 456.59) rotate(-60)" x="0" y="1.66" font-size="4.6" text-anchor="middle" fill="#000" stroke="#000" stroke-width="0.2">G37</text>
<line x1="77.94" x2="77.94" y1="448.9" y2="451.30" stroke="#4a4a4a" stroke-width="0.5"/>
<text transform="translate(77.94 455.48) rotate(-60)" x="0" y="1.66" font-size="4.6" text-anchor="middle" fill="#000" stroke="#000" stroke-width="0.2">G3</text>
<line x1="99.80" x2="99.80" y1="448.9" y2="451.30" stroke="#4a4a4a" stroke-width="0.5"/>
<text transform="translate(99.80 461.53) rotate(-60)" x="0" y="1.66" font-size="4.6" text-anchor="middle" fill="#000" stroke="#000" stroke-width="0.2">DTA-DBD</text>
<line x1="121.66" x2="121.66" y1="448.9" y2="451.30" stroke="#4a4a4a" stroke-width="0.5"/>
<text transform="translate(121.66 456.59) rotate(-60)" x="0" y="1.66" font-size="4.6" text-anchor="middle" fill="#000" stroke="#000" stroke-width="0.2">G10</text>
<line x1="143.51" x2="143.51" y1="448.9" y2="451.30" stroke="#4a4a4a" stroke-width="0.5"/>
<text transform="translate(143.51 455.48) rotate(-60)" x="0" y="1.66" font-size="4.6" text-anchor="middle" fill="#000" stroke="#000" stroke-width="0.2">G7</text>
<line x1="165.37" x2="165.37" y1="448.9" y2="451.30" stroke="#4a4a4a" stroke-width="0.5"/>
<text transform="translate(165.37 456.59) rotate(-60)" x="0" y="1.66" font-size="4.6" text-anchor="middle" fill="#000" stroke="#000" stroke-width="0.2">G26</text>
<line x1="187.23" x2="187.23" y1="448.9" y2="451.30" stroke="#4a4a4a" stroke-width="0.5"/>
<text transform="translate(187.23 456.59) rotate(-60)" x="0" y="1.66" font-size="4.6" text-anchor="middle" fill="#000" stroke="#000" stroke-width="0.2">G15</text>
<line x1="209.09" x2="209.09" y1="448.9" y2="451.30" stroke="#4a4a4a" stroke-width="0.5"/>
<text transform="translate(209.09 456.59) rotate(-60)" x="0" y="1.66" font-size="4.6" text-anchor="middle" fill="#000" stroke="#000" stroke-width="0.2">G36</text>
<line x1="230.94" x2="230.94" y1="448.9" y2="451.30" stroke="#4a4a4a" stroke-width="0.5"/>
<text transform="translate(230.94 455.48) rotate(-60)" x="0" y="1.66" font-size="4.6" text-anchor="middle" fill="#000" stroke="#000" stroke-width="0.2">G2</text>
<line x1="252.80" x2="252.80" y1="448.9" y2="451.30" stroke="#4a4a4a" stroke-width="0.5"/>
<text transform="translate(252.80 456.59) rotate(-60)" x="0" y="1.66" font-size="4.6" text-anchor="middle" fill="#000" stroke="#000" stroke-width="0.2">G24</text>
<line x1="274.66" x2="274.66" y1="448.9" y2="451.30" stroke="#4a4a4a" stroke-width="0.5"/>
<text transform="translate(274.66 458.77) rotate(-60)" x="0" y="1.66" font-size="4.6" text-anchor="middle" fill="#000" stroke="#000" stroke-width="0.2">DTA-D</text>
<line x1="296.51" x2="296.51" y1="448.9" y2="451.30" stroke="#4a4a4a" stroke-width="0.5"/>
<text transform="translate(296.51 456.59) rotate(-60)" x="0" y="1.66" font-size="4.6" text-anchor="middle" fill="#000" stroke="#000" stroke-width="0.2">G38</text>
<line x1="318.37" x2="318.37" y1="448.9" y2="451.30" stroke="#4a4a4a" stroke-width="0.5"/>
<text transform="translate(318.37 456.59) rotate(-60)" x="0" y="1.66" font-size="4.6" text-anchor="middle" fill="#000" stroke="#000" stroke-width="0.2">G31</text>
<line x1="340.23" x2="340.23" y1="448.9" y2="451.30" stroke="#4a4a4a" stroke-width="0.5"/>
<text transform="translate(340.23 456.59) rotate(-60)" x="0" y="1.66" font-size="4.6" text-anchor="middle" fill="#000" stroke="#000" stroke-width="0.2">G27</text>
<line x1="362.09" x2="362.09" y1="448.9" y2="451.30" stroke="#4a4a4a" stroke-width="0.5"/>
<text transform="translate(362.09 456.59) rotate(-60)" x="0" y="1.66" font-size="4.6" text-anchor="middle" fill="#000" stroke="#000" stroke-width="0.2">G17</text>
<line x1="383.94" x2="383.94" y1="448.9" y2="451.30" stroke="#4a4a4a" stroke-width="0.5"/>
<text transform="translate(383.94 455.48) rotate(-60)" x="0" y="1.66" font-size="4.6" text-anchor="middle" fill="#000" stroke="#000" stroke-width="0.2">G5</text>
<line x1="405.80" x2="405.80" y1="448.9" y2="451.30" stroke="#4a4a4a" stroke-width="0.5"/>
<text transform="translate(405.80 460.09) rotate(-60)" x="0" y="1.66" font-size="4.6" text-anchor="middle" fill="#000" stroke="#000" stroke-width="0.2">DTA-BD</text>
<line x1="427.66" x2="427.66" y1="448.9" y2="451.30" stroke="#4a4a4a" stroke-width="0.5"/>
<text transform="translate(427.66 455.48) rotate(-60)" x="0" y="1.66" font-size="4.6" text-anchor="middle" fill="#000" stroke="#000" stroke-width="0.2">G9</text>
<line x1="449.51" x2="449.51" y1="448.9" y2="451.30" stroke="#4a4a4a" stroke-width="0.5"/>
<text transform="translate(449.51 456.59) rotate(-60)" x="0" y="1.66" font-size="4.6" text-anchor="middle" fill="#000" stroke="#000" stroke-width="0.2">G39</text>
<line x1="471.37" x2="471.37" y1="448.9" y2="451.30" stroke="#4a4a4a" stroke-width="0.5"/>
<text transform="translate(471.37 456.59) rotate(-60)" x="0" y="1.66" font-size="4.6" text-anchor="middle" fill="#000" stroke="#000" stroke-width="0.2">G32</text>
<line x1="493.23" x2="493.23" y1="448.9" y2="451.30" stroke="#4a4a4a" stroke-width="0.5"/>
<text transform="translate(493.23 456.59) rotate(-60)" x="0" y="1.66" font-size="4.6" text-anchor="middle" fill="#000" stroke="#000" stroke-width="0.2">G25</text>
<line x1="515.09" x2="515.09" y1="448.9" y2="451.30" stroke="#4a4a4a" stroke-width="0.5"/>
<text transform="translate(515.09 456.59) rotate(-60)" x="0" y="1.66" font-size="4.6" text-anchor="middle" fill="#000" stroke="#000" stroke-width="0.2">G21</text>
<line x1="536.94" x2="536.94" y1="448.9" y2="451.30" stroke="#4a4a4a" stroke-width="0.5"/>
<text transform="translate(536.94 456.59) rotate(-60)" x="0" y="1.66" font-size="4.6" text-anchor="middle" fill="#000" stroke="#000" stroke-width="0.2">G28</text>
<line x1="558.80" x2="558.80" y1="448.9" y2="451.30" stroke="#4a4a4a" stroke-width="0.5"/>
<text transform="translate(558.80 455.48) rotate(-60)" x="0" y="1.66" font-size="4.6" text-anchor="middle" fill="#000" stroke="#000" stroke-width="0.2">G8</text>
<line x1="580.66" x2="580.66" y1="448.9" y2="451.30" stroke="#4a4a4a" stroke-width="0.5"/>
<text transform="translate(580.66 455.48) rotate(-60)" x="0" y="1.66" font-size="4.6" text-anchor="middle" fill="#000" stroke="#000" stroke-width="0.2">G6</text>
<line x1="602.51" x2="602.51" y1="448.9" y2="451.30" stroke="#4a4a4a" stroke-width="0.5"/>
<text transform="translate(602.51 456.59) rotate(-60)" x="0" y="1.66" font-size="4.6" text-anchor="middle" fill="#000" stroke="#000" stroke-width="0.2">G14</text>
<line x1="624.37" x2="624.37" y1="448.9" y2="451.30" stroke="#4a4a4a" stroke-width="0.5"/>
<text transform="translate(624.37 456.59) rotate(-60)" x="0" y="1.66" font-size="4.6" text-anchor="middle" fill="#000" stroke="#000" stroke-width="0.2">G12</text>
<line x1="22.95" x2="635.65" y1="330.3" y2="330.3" stroke="#000" stroke-width="1.4"/>
<text x="23.85" y="325.9" font-size="14.5" font-weight="bold" textLength="13.15" lengthAdjust="spacingAndGlyphs" fill="#000">C:</text>
<text x="40.30" y="325.9" font-size="14.5" textLength="69.30" lengthAdjust="spacingAndGlyphs" fill="#3c3c3c">Component</text>
<text x="112.60" y="325.9" font-size="14.5" textLength="37.38" lengthAdjust="spacingAndGlyphs" fill="#3c3c3c">Model</text>
<text x="153.60" y="325.9" font-size="14.5" textLength="75.50" lengthAdjust="spacingAndGlyphs" fill="#3c3c3c">Performance</text>
<text x="232.50" y="325.9" font-size="14.5" textLength="14.23" lengthAdjust="spacingAndGlyphs" fill="#3c3c3c">on</text>
<text x="249.80" y="325.9" font-size="14.5" textLength="18.00" lengthAdjust="spacingAndGlyphs" fill="#3c3c3c">the</text>
<text x="272.50" y="325.9" font-size="14.5" textLength="56.26" lengthAdjust="spacingAndGlyphs" fill="#3c3c3c">DeepDTA</text>
<text x="333.00" y="325.9" font-size="14.5" textLength="43.62" lengthAdjust="spacingAndGlyphs" fill="#3c3c3c">Defined</text>
<text x="381.60" y="325.9" font-size="14.5" textLength="22.79" lengthAdjust="spacingAndGlyphs" fill="#3c3c3c">Test</text>
<text x="408.85" y="325.9" font-size="14.5" textLength="19.11" lengthAdjust="spacingAndGlyphs" fill="#3c3c3c">Set</text>
<text x="432.15" y="325.9" font-size="14.5" textLength="59.13" lengthAdjust="spacingAndGlyphs" fill="#3c3c3c">Measured</text>
<text x="495.05" y="325.9" font-size="14.5" textLength="13.82" lengthAdjust="spacingAndGlyphs" fill="#3c3c3c">by</text>
<text x="512.45" y="325.9" font-size="14.5" textLength="43.18" lengthAdjust="spacingAndGlyphs" fill="#3c3c3c"><tspan font-style="italic">c</tspan>-index</text>
<text transform="translate(8.0 390.75) rotate(-90)" font-size="11.7" text-anchor="middle" textLength="89.5" lengthAdjust="spacingAndGlyphs" fill="#3c3c3c">Concordance Index</text>
<line x1="638.9" x2="638.9" y1="334.40" y2="359.3" stroke="#b4b4b4" stroke-width="0.6"/>
<path d="M638.9 331.4 L640.9 336.0 L636.9 336.0 Z" fill="#b4b4b4"/>
<line x1="637.4" x2="640.4" y1="359.3" y2="359.3" stroke="#b4b4b4" stroke-width="0.6"/>
<text transform="translate(644.9 346.55) rotate(-90)" font-size="5.9" font-style="italic" text-anchor="middle" fill="#a6a6a6">Better</text>
<rect x="638.4" y="373.7" width="60" height="52.20" fill="#fff" stroke="#d0d0d0" stroke-width="0.6" rx="0.8"/>
<rect x="641.7" y="376.40" width="11.2" height="5.6" fill="#6599ec"/>
<text x="654.8" y="381.30" font-size="6" fill="#111" stroke="#000" stroke-width="0.28">CM-NM</text>
<rect x="641.7" y="384.45" width="11.2" height="5.6" fill="#f683bf"/>
<text x="654.8" y="389.35" font-size="6" fill="#111" stroke="#000" stroke-width="0.28">CM-RP</text>
<rect x="641.7" y="392.50" width="11.2" height="5.6" fill="#c4c4c4"/>
<text x="654.8" y="397.40" font-size="6" fill="#111" stroke="#000" stroke-width="0.28">SOTA-NM</text>
<rect x="641.7" y="400.55" width="11.2" height="5.6" fill="#8e8e8e"/>
<text x="654.8" y="405.45" font-size="6" fill="#111" stroke="#000" stroke-width="0.28">SOTA-RP</text>
<rect x="642.1" y="409.00" width="10.4" height="4.8" fill="#fff" stroke="#000" stroke-width="1"/>
<text x="654.8" y="413.50" font-size="6" fill="#111" stroke="#000" stroke-width="0.28">MUSDTI*</text>
<rect x="641.7" y="416.65" width="11.2" height="5.6" fill="#000"/>
<text x="654.8" y="421.55" font-size="6" fill="#111" stroke="#000" stroke-width="0.28">MUSDTI</text>
<line x1="23.3" x2="635.3" y1="607.90" y2="607.90" stroke="#d4d4d4" stroke-width="0.5" stroke-dasharray="1.2 0.8"/>
<line x1="23.3" x2="635.3" y1="592.96" y2="592.96" stroke="#d4d4d4" stroke-width="0.5" stroke-dasharray="1.2 0.8"/>
<line x1="23.3" x2="635.3" y1="578.02" y2="578.02" stroke="#d4d4d4" stroke-width="0.5" stroke-dasharray="1.2 0.8"/>
<line x1="23.3" x2="635.3" y1="563.08" y2="563.08" stroke="#d4d4d4" stroke-width="0.5" stroke-dasharray="1.2 0.8"/>
<line x1="23.3" x2="635.3" y1="548.14" y2="548.14" stroke="#d4d4d4" stroke-width="0.5" stroke-dasharray="1.2 0.8"/>
<line x1="23.3" x2="635.3" y1="533.20" y2="533.20" stroke="#d4d4d4" stroke-width="0.5" stroke-dasharray="1.2 0.8"/>
<line x1="23.3" x2="635.3" y1="518.26" y2="518.26" stroke="#d4d4d4" stroke-width="0.5" stroke-dasharray="1.2 0.8"/>
<line x1="23.3" x2="635.3" y1="503.32" y2="503.32" stroke="#d4d4d4" stroke-width="0.5" stroke-dasharray="1.2 0.8"/>
<rect x="29.21" y="511.20" width="10.03" height="55.30" fill="#fff" stroke="#a2a2a2" stroke-width="0.9"/>
<rect x="28.76" y="566.50" width="10.93" height="41.40" fill="#000000"/>
<line x1="34.23" x2="34.23" y1="511.20" y2="563.50" stroke="#000" stroke-width="0.68" stroke-dasharray="1.5 0.95"/>
<path d="M34.23 566.30 L35.98 561.50 L32.48 561.50 Z" fill="#000"/>
<line x1="28.76" x2="39.69" y1="511.40" y2="511.40" stroke="#000" stroke-width="0.8"/>
<rect x="50.62" y="502.30" width="10.93" height="58.20" fill="#6599ec"/>
<rect x="50.62" y="560.50" width="10.93" height="47.40" fill="#f683bf"/>
<line x1="56.09" x2="56.09" y1="502.30" y2="557.50" stroke="#fff" stroke-width="0.68" stroke-dasharray="1.5 0.95"/>
<path d="M56.09 560.30 L57.84 555.50 L54.34 555.50 Z" fill="#fff"/>
<line x1="53.29" x2="58.89" y1="502.50" y2="502.50" stroke="#fff" stroke-width="0.65"/>
<rect x="72.48" y="500.10" width="10.93" height="59.80" fill="#c4c4c4"/>
<rect x="72.48" y="559.90" width="10.93" height="48.00" fill="#8e8e8e"/>
<line x1="77.94" x2="77.94" y1="500.10" y2="556.90" stroke="#fff" stroke-width="0.68" stroke-dasharray="1.5 0.95"/>
<path d="M77.94 559.70 L79.69 554.90 L76.19 554.90 Z" fill="#fff"/>
<line x1="75.14" x2="80.74" y1="500.30" y2="500.30" stroke="#fff" stroke-width="0.65"/>
<rect x="94.34" y="499.35" width="10.93" height="60.35" fill="#6599ec"/>
<rect x="94.34" y="559.70" width="10.93" height="48.20" fill="#f683bf"/>
<line x1="99.80" x2="99.80" y1="499.35" y2="556.70" stroke="#fff" stroke-width="0.68" stroke-dasharray="1.5 0.95"/>
<path d="M99.80 559.50 L101.55 554.70 L98.05 554.70 Z" fill="#fff"/>
<line x1="97.00" x2="102.60" y1="499.55" y2="499.55" stroke="#fff" stroke-width="0.65"/>
<rect x="116.19" y="500.10" width="10.93" height="59.45" fill="#6599ec"/>
<rect x="116.19" y="559.55" width="10.93" height="48.35" fill="#f683bf"/>
<line x1="121.66" x2="121.66" y1="500.10" y2="556.55" stroke="#fff" stroke-width="0.68" stroke-dasharray="1.5 0.95"/>
<path d="M121.66 559.35 L123.41 554.55 L119.91 554.55 Z" fill="#fff"/>
<line x1="118.86" x2="124.46" y1="500.30" y2="500.30" stroke="#fff" stroke-width="0.65"/>
<rect x="138.05" y="498.80" width="10.93" height="60.90" fill="#6599ec"/>
<rect x="138.05" y="559.70" width="10.93" height="48.20" fill="#f683bf"/>
<line x1="143.51" x2="143.51" y1="498.80" y2="556.70" stroke="#fff" stroke-width="0.68" stroke-dasharray="1.5 0.95"/>
<path d="M143.51 559.50 L145.26 554.70 L141.76 554.70 Z" fill="#fff"/>
<line x1="140.71" x2="146.31" y1="499.00" y2="499.00" stroke="#fff" stroke-width="0.65"/>
<rect x="159.91" y="499.70" width="10.93" height="59.85" fill="#6599ec"/>
<rect x="159.91" y="559.55" width="10.93" height="48.35" fill="#f683bf"/>
<line x1="165.37" x2="165.37" y1="499.70" y2="556.55" stroke="#fff" stroke-width="0.68" stroke-dasharray="1.5 0.95"/>
<path d="M165.37 559.35 L167.12 554.55 L163.62 554.55 Z" fill="#fff"/>
<line x1="162.57" x2="168.17" y1="499.90" y2="499.90" stroke="#fff" stroke-width="0.65"/>
<rect x="181.76" y="499.20" width="10.93" height="60.00" fill="#6599ec"/>
<rect x="181.76" y="559.20" width="10.93" height="48.70" fill="#f683bf"/>
<line x1="187.23" x2="187.23" y1="499.20" y2="556.20" stroke="#fff" stroke-width="0.68" stroke-dasharray="1.5 0.95"/>
<path d="M187.23 559.00 L188.98 554.20 L185.48 554.20 Z" fill="#fff"/>
<line x1="184.43" x2="190.03" y1="499.40" y2="499.40" stroke="#fff" stroke-width="0.65"/>
<rect x="203.62" y="498.80" width="10.93" height="60.30" fill="#6599ec"/>
<rect x="203.62" y="559.10" width="10.93" height="48.80" fill="#f683bf"/>
<line x1="209.09" x2="209.09" y1="498.80" y2="556.10" stroke="#fff" stroke-width="0.68" stroke-dasharray="1.5 0.95"/>
<path d="M209.09 558.90 L210.84 554.10 L207.34 554.10 Z" fill="#fff"/>
<line x1="206.29" x2="211.89" y1="499.00" y2="499.00" stroke="#fff" stroke-width="0.65"/>
<rect x="225.48" y="498.20" width="10.93" height="60.60" fill="#6599ec"/>
<rect x="225.48" y="558.80" width="10.93" height="49.10" fill="#f683bf"/>
<line x1="230.94" x2="230.94" y1="498.20" y2="555.80" stroke="#fff" stroke-width="0.68" stroke-dasharray="1.5 0.95"/>
<path d="M230.94 558.60 L232.69 553.80 L229.19 553.80 Z" fill="#fff"/>
<line x1="228.14" x2="233.74" y1="498.40" y2="498.40" stroke="#fff" stroke-width="0.65"/>
<rect x="247.34" y="498.40" width="10.93" height="60.40" fill="#6599ec"/>
<rect x="247.34" y="558.80" width="10.93" height="49.10" fill="#f683bf"/>
<line x1="252.80" x2="252.80" y1="498.40" y2="555.80" stroke="#fff" stroke-width="0.68" stroke-dasharray="1.5 0.95"/>
<path d="M252.80 558.60 L254.55 553.80 L251.05 553.80 Z" fill="#fff"/>
<line x1="250.00" x2="255.60" y1="498.60" y2="498.60" stroke="#fff" stroke-width="0.65"/>
<rect x="269.19" y="499.00" width="10.93" height="59.80" fill="#6599ec"/>
<rect x="269.19" y="558.80" width="10.93" height="49.10" fill="#f683bf"/>
<line x1="274.66" x2="274.66" y1="499.00" y2="555.80" stroke="#fff" stroke-width="0.68" stroke-dasharray="1.5 0.95"/>
<path d="M274.66 558.60 L276.41 553.80 L272.91 553.80 Z" fill="#fff"/>
<line x1="271.86" x2="277.46" y1="499.20" y2="499.20" stroke="#fff" stroke-width="0.65"/>
<rect x="291.05" y="498.00" width="10.93" height="60.20" fill="#6599ec"/>
<rect x="291.05" y="558.20" width="10.93" height="49.70" fill="#f683bf"/>
<line x1="296.51" x2="296.51" y1="498.00" y2="555.20" stroke="#fff" stroke-width="0.68" stroke-dasharray="1.5 0.95"/>
<path d="M296.51 558.00 L298.26 553.20 L294.76 553.20 Z" fill="#fff"/>
<line x1="293.71" x2="299.31" y1="498.20" y2="498.20" stroke="#fff" stroke-width="0.65"/>
<rect x="312.91" y="498.00" width="10.93" height="60.20" fill="#c4c4c4"/>
<rect x="312.91" y="558.20" width="10.93" height="49.70" fill="#8e8e8e"/>
<line x1="318.37" x2="318.37" y1="498.00" y2="555.20" stroke="#fff" stroke-width="0.68" stroke-dasharray="1.5 0.95"/>
<path d="M318.37 558.00 L320.12 553.20 L316.62 553.20 Z" fill="#fff"/>
<line x1="315.57" x2="321.17" y1="498.20" y2="498.20" stroke="#fff" stroke-width="0.65"/>
<rect x="334.76" y="498.60" width="10.93" height="59.40" fill="#6599ec"/>
<rect x="334.76" y="558.00" width="10.93" height="49.90" fill="#f683bf"/>
<line x1="340.23" x2="340.23" y1="498.60" y2="555.00" stroke="#fff" stroke-width="0.68" stroke-dasharray="1.5 0.95"/>
<path d="M340.23 557.80 L341.98 553.00 L338.48 553.00 Z" fill="#fff"/>
<line x1="337.43" x2="343.03" y1="498.80" y2="498.80" stroke="#fff" stroke-width="0.65"/>
<rect x="356.62" y="497.90" width="10.93" height="60.00" fill="#6599ec"/>
<rect x="356.62" y="557.90" width="10.93" height="50.00" fill="#f683bf"/>
<line x1="362.09" x2="362.09" y1="497.90" y2="554.90" stroke="#fff" stroke-width="0.68" stroke-dasharray="1.5 0.95"/>
<path d="M362.09 557.70 L363.84 552.90 L360.34 552.90 Z" fill="#fff"/>
<line x1="359.29" x2="364.89" y1="498.10" y2="498.10" stroke="#fff" stroke-width="0.65"/>
<rect x="378.48" y="498.80" width="10.93" height="59.00" fill="#6599ec"/>
<rect x="378.48" y="557.80" width="10.93" height="50.10" fill="#f683bf"/>
<line x1="383.94" x2="383.94" y1="498.80" y2="554.80" stroke="#fff" stroke-width="0.68" stroke-dasharray="1.5 0.95"/>
<path d="M383.94 557.60 L385.69 552.80 L382.19 552.80 Z" fill="#fff"/>
<line x1="381.14" x2="386.74" y1="499.00" y2="499.00" stroke="#fff" stroke-width="0.65"/>
<rect x="400.34" y="497.40" width="10.93" height="60.40" fill="#6599ec"/>
<rect x="400.34" y="557.80" width="10.93" height="50.10" fill="#f683bf"/>
<line x1="405.80" x2="405.80" y1="497.40" y2="554.80" stroke="#fff" stroke-width="0.68" stroke-dasharray="1.5 0.95"/>
<path d="M405.80 557.60 L407.55 552.80 L404.05 552.80 Z" fill="#fff"/>
<line x1="403.00" x2="408.60" y1="497.60" y2="497.60" stroke="#fff" stroke-width="0.65"/>
<rect x="422.19" y="496.80" width="10.93" height="61.00" fill="#6599ec"/>
<rect x="422.19" y="557.80" width="10.93" height="50.10" fill="#f683bf"/>
<line x1="427.66" x2="427.66" y1="496.80" y2="554.80" stroke="#fff" stroke-width="0.68" stroke-dasharray="1.5 0.95"/>
<path d="M427.66 557.60 L429.41 552.80 L425.91 552.80 Z" fill="#fff"/>
<line x1="424.86" x2="430.46" y1="497.00" y2="497.00" stroke="#fff" stroke-width="0.65"/>
<rect x="444.05" y="497.40" width="10.93" height="60.60" fill="#c4c4c4"/>
<rect x="444.05" y="558.00" width="10.93" height="49.90" fill="#8e8e8e"/>
<line x1="449.51" x2="449.51" y1="497.40" y2="555.00" stroke="#fff" stroke-width="0.68" stroke-dasharray="1.5 0.95"/>
<path d="M449.51 557.80 L451.26 553.00 L447.76 553.00 Z" fill="#fff"/>
<line x1="446.71" x2="452.31" y1="497.60" y2="497.60" stroke="#fff" stroke-width="0.65"/>
<rect x="465.91" y="497.00" width="10.93" height="60.60" fill="#6599ec"/>
<rect x="465.91" y="557.60" width="10.93" height="50.30" fill="#f683bf"/>
<line x1="471.37" x2="471.37" y1="497.00" y2="554.60" stroke="#fff" stroke-width="0.68" stroke-dasharray="1.5 0.95"/>
<path d="M471.37 557.40 L473.12 552.60 L469.62 552.60 Z" fill="#fff"/>
<line x1="468.57" x2="474.17" y1="497.20" y2="497.20" stroke="#fff" stroke-width="0.65"/>
<rect x="487.76" y="497.80" width="10.93" height="59.80" fill="#6599ec"/>
<rect x="487.76" y="557.60" width="10.93" height="50.30" fill="#f683bf"/>
<line x1="493.23" x2="493.23" y1="497.80" y2="554.60" stroke="#fff" stroke-width="0.68" stroke-dasharray="1.5 0.95"/>
<path d="M493.23 557.40 L494.98 552.60 L491.48 552.60 Z" fill="#fff"/>
<line x1="490.43" x2="496.03" y1="498.00" y2="498.00" stroke="#fff" stroke-width="0.65"/>
<rect x="509.62" y="497.20" width="10.93" height="60.20" fill="#6599ec"/>
<rect x="509.62" y="557.40" width="10.93" height="50.50" fill="#f683bf"/>
<line x1="515.09" x2="515.09" y1="497.20" y2="554.40" stroke="#fff" stroke-width="0.68" stroke-dasharray="1.5 0.95"/>
<path d="M515.09 557.20 L516.84 552.40 L513.34 552.40 Z" fill="#fff"/>
<line x1="512.29" x2="517.89" y1="497.40" y2="497.40" stroke="#fff" stroke-width="0.65"/>
<rect x="531.48" y="496.40" width="10.93" height="60.60" fill="#6599ec"/>
<rect x="531.48" y="557.00" width="10.93" height="50.90" fill="#f683bf"/>
<line x1="536.94" x2="536.94" y1="496.40" y2="554.00" stroke="#fff" stroke-width="0.68" stroke-dasharray="1.5 0.95"/>
<path d="M536.94 556.80 L538.69 552.00 L535.19 552.00 Z" fill="#fff"/>
<line x1="534.14" x2="539.74" y1="496.60" y2="496.60" stroke="#fff" stroke-width="0.65"/>
<rect x="553.34" y="497.40" width="10.93" height="59.20" fill="#6599ec"/>
<rect x="553.34" y="556.60" width="10.93" height="51.30" fill="#f683bf"/>
<line x1="558.80" x2="558.80" y1="497.40" y2="553.60" stroke="#fff" stroke-width="0.68" stroke-dasharray="1.5 0.95"/>
<path d="M558.80 556.40 L560.55 551.60 L557.05 551.60 Z" fill="#fff"/>
<line x1="556.00" x2="561.60" y1="497.60" y2="497.60" stroke="#fff" stroke-width="0.65"/>
<rect x="575.19" y="495.30" width="10.93" height="60.95" fill="#6599ec"/>
<rect x="575.19" y="556.25" width="10.93" height="51.65" fill="#f683bf"/>
<line x1="580.66" x2="580.66" y1="495.30" y2="553.25" stroke="#fff" stroke-width="0.68" stroke-dasharray="1.5 0.95"/>
<path d="M580.66 556.05 L582.41 551.25 L578.91 551.25 Z" fill="#fff"/>
<line x1="577.86" x2="583.46" y1="495.50" y2="495.50" stroke="#fff" stroke-width="0.65"/>
<rect x="597.05" y="494.90" width="10.93" height="61.40" fill="#6599ec"/>
<rect x="597.05" y="556.30" width="10.93" height="51.60" fill="#f683bf"/>
<line x1="602.51" x2="602.51" y1="494.90" y2="553.30" stroke="#fff" stroke-width="0.68" stroke-dasharray="1.5 0.95"/>
<path d="M602.51 556.10 L604.26 551.30 L600.76 551.30 Z" fill="#fff"/>
<line x1="599.71" x2="605.31" y1="495.10" y2="495.10" stroke="#fff" stroke-width="0.65"/>
<rect x="618.91" y="494.40" width="10.93" height="61.30" fill="#6599ec"/>
<rect x="618.91" y="555.70" width="10.93" height="52.20" fill="#f683bf"/>
<line x1="624.37" x2="624.37" y1="494.40" y2="552.70" stroke="#fff" stroke-width="0.68" stroke-dasharray="1.5 0.95"/>
<path d="M624.37 555.50 L626.12 550.70 L622.62 550.70 Z" fill="#fff"/>
<line x1="621.57" x2="627.17" y1="494.60" y2="494.60" stroke="#fff" stroke-width="0.65"/>
<line x1="23.3" x2="23.3" y1="488.7" y2="607.9" stroke="#4a4a4a" stroke-width="0.7"/>
<line x1="635.3" x2="635.3" y1="488.7" y2="607.9" stroke="#4a4a4a" stroke-width="0.7"/>
<line x1="22.95" x2="635.65" y1="488.7" y2="488.7" stroke="#8c8c8c" stroke-width="0.7"/>
<line x1="20.70" x2="23.3" y1="607.90" y2="607.90" stroke="#4a4a4a" stroke-width="0.5"/>
<text x="20.00" y="609.45" font-size="4.7" text-anchor="end" fill="#000" stroke="#000" stroke-width="0.15">0.0</text>
<line x1="20.70" x2="23.3" y1="592.96" y2="592.96" stroke="#4a4a4a" stroke-width="0.5"/>
<text x="20.00" y="594.51" font-size="4.7" text-anchor="end" fill="#000" stroke="#000" stroke-width="0.15">0.2</text>
<line x1="20.70" x2="23.3" y1="578.02" y2="578.02" stroke="#4a4a4a" stroke-width="0.5"/>
<text x="20.00" y="579.57" font-size="4.7" text-anchor="end" fill="#000" stroke="#000" stroke-width="0.15">0.4</text>
<line x1="20.70" x2="23.3" y1="563.08" y2="563.08" stroke="#4a4a4a" stroke-width="0.5"/>
<text x="20.00" y="564.63" font-size="4.7" text-anchor="end" fill="#000" stroke="#000" stroke-width="0.15">0.6</text>
<line x1="20.70" x2="23.3" y1="548.14" y2="548.14" stroke="#4a4a4a" stroke-width="0.5"/>
<text x="20.00" y="549.69" font-size="4.7" text-anchor="end" fill="#000" stroke="#000" stroke-width="0.15">0.8</text>
<line x1="20.70" x2="23.3" y1="533.20" y2="533.20" stroke="#4a4a4a" stroke-width="0.5"/>
<text x="20.00" y="534.75" font-size="4.7" text-anchor="end" fill="#000" stroke="#000" stroke-width="0.15">1.0</text>
<line x1="20.70" x2="23.3" y1="518.26" y2="518.26" stroke="#4a4a4a" stroke-width="0.5"/>
<text x="20.00" y="519.81" font-size="4.7" text-anchor="end" fill="#000" stroke="#000" stroke-width="0.15">1.2</text>
<line x1="20.70" x2="23.3" y1="503.32" y2="503.32" stroke="#4a4a4a" stroke-width="0.5"/>
<text x="20.00" y="504.87" font-size="4.7" text-anchor="end" fill="#000" stroke="#000" stroke-width="0.15">1.4</text>
<line x1="34.23" x2="34.23" y1="607.9" y2="610.30" stroke="#4a4a4a" stroke-width="0.5"/>
<text transform="translate(34.23 619.66) rotate(-60)" x="0" y="1.66" font-size="4.6" text-anchor="middle" fill="#000" stroke="#000" stroke-width="0.2">MUSDTI</text>
<line x1="56.09" x2="56.09" y1="607.9" y2="610.30" stroke="#4a4a4a" stroke-width="0.5"/>
<text transform="translate(56.09 614.68) rotate(-60)" x="0" y="1.66" font-size="4.6" text-anchor="middle" fill="#000" stroke="#000" stroke-width="0.2">G3</text>
<line x1="77.94" x2="77.94" y1="607.9" y2="610.30" stroke="#4a4a4a" stroke-width="0.5"/>
<text transform="translate(77.94 620.73) rotate(-60)" x="0" y="1.66" font-size="4.6" text-anchor="middle" fill="#000" stroke="#000" stroke-width="0.2">DTA-DBD</text>
<line x1="99.80" x2="99.80" y1="607.9" y2="610.30" stroke="#4a4a4a" stroke-width="0.5"/>
<text transform="translate(99.80 615.79) rotate(-60)" x="0" y="1.66" font-size="4.6" text-anchor="middle" fill="#000" stroke="#000" stroke-width="0.2">G10</text>
<line x1="121.66" x2="121.66" y1="607.9" y2="610.30" stroke="#4a4a4a" stroke-width="0.5"/>
<text transform="translate(121.66 615.79) rotate(-60)" x="0" y="1.66" font-size="4.6" text-anchor="middle" fill="#000" stroke="#000" stroke-width="0.2">G37</text>
<line x1="143.51" x2="143.51" y1="607.9" y2="610.30" stroke="#4a4a4a" stroke-width="0.5"/>
<text transform="translate(143.51 614.68) rotate(-60)" x="0" y="1.66" font-size="4.6" text-anchor="middle" fill="#000" stroke="#000" stroke-width="0.2">G7</text>
<line x1="165.37" x2="165.37" y1="607.9" y2="610.30" stroke="#4a4a4a" stroke-width="0.5"/>
<text transform="translate(165.37 615.79) rotate(-60)" x="0" y="1.66" font-size="4.6" text-anchor="middle" fill="#000" stroke="#000" stroke-width="0.2">G26</text>
<line x1="187.23" x2="187.23" y1="607.9" y2="610.30" stroke="#4a4a4a" stroke-width="0.5"/>
<text transform="translate(187.23 615.79) rotate(-60)" x="0" y="1.66" font-size="4.6" text-anchor="middle" fill="#000" stroke="#000" stroke-width="0.2">G27</text>
<line x1="209.09" x2="209.09" y1="607.9" y2="610.30" stroke="#4a4a4a" stroke-width="0.5"/>
<text transform="translate(209.09 615.79) rotate(-60)" x="0" y="1.66" font-size="4.6" text-anchor="middle" fill="#000" stroke="#000" stroke-width="0.2">G36</text>
<line x1="230.94" x2="230.94" y1="607.9" y2="610.30" stroke="#4a4a4a" stroke-width="0.5"/>
<text transform="translate(230.94 615.79) rotate(-60)" x="0" y="1.66" font-size="4.6" text-anchor="middle" fill="#000" stroke="#000" stroke-width="0.2">G15</text>
<line x1="252.80" x2="252.80" y1="607.9" y2="610.30" stroke="#4a4a4a" stroke-width="0.5"/>
<text transform="translate(252.80 614.68) rotate(-60)" x="0" y="1.66" font-size="4.6" text-anchor="middle" fill="#000" stroke="#000" stroke-width="0.2">G2</text>
<line x1="274.66" x2="274.66" y1="607.9" y2="610.30" stroke="#4a4a4a" stroke-width="0.5"/>
<text transform="translate(274.66 615.79) rotate(-60)" x="0" y="1.66" font-size="4.6" text-anchor="middle" fill="#000" stroke="#000" stroke-width="0.2">G24</text>
<line x1="296.51" x2="296.51" y1="607.9" y2="610.30" stroke="#4a4a4a" stroke-width="0.5"/>
<text transform="translate(296.51 614.68) rotate(-60)" x="0" y="1.66" font-size="4.6" text-anchor="middle" fill="#000" stroke="#000" stroke-width="0.2">G5</text>
<line x1="318.37" x2="318.37" y1="607.9" y2="610.30" stroke="#4a4a4a" stroke-width="0.5"/>
<text transform="translate(318.37 617.97) rotate(-60)" x="0" y="1.66" font-size="4.6" text-anchor="middle" fill="#000" stroke="#000" stroke-width="0.2">DTA-D</text>
<line x1="340.23" x2="340.23" y1="607.9" y2="610.30" stroke="#4a4a4a" stroke-width="0.5"/>
<text transform="translate(340.23 615.79) rotate(-60)" x="0" y="1.66" font-size="4.6" text-anchor="middle" fill="#000" stroke="#000" stroke-width="0.2">G31</text>
<line x1="362.09" x2="362.09" y1="607.9" y2="610.30" stroke="#4a4a4a" stroke-width="0.5"/>
<text transform="translate(362.09 615.79) rotate(-60)" x="0" y="1.66" font-size="4.6" text-anchor="middle" fill="#000" stroke="#000" stroke-width="0.2">G38</text>
<line x1="383.94" x2="383.94" y1="607.9" y2="610.30" stroke="#4a4a4a" stroke-width="0.5"/>
<text transform="translate(383.94 614.68) rotate(-60)" x="0" y="1.66" font-size="4.6" text-anchor="middle" fill="#000" stroke="#000" stroke-width="0.2">G9</text>
<line x1="405.80" x2="405.80" y1="607.9" y2="610.30" stroke="#4a4a4a" stroke-width="0.5"/>
<text transform="translate(405.80 615.79) rotate(-60)" x="0" y="1.66" font-size="4.6" text-anchor="middle" fill="#000" stroke="#000" stroke-width="0.2">G39</text>
<line x1="427.66" x2="427.66" y1="607.9" y2="610.30" stroke="#4a4a4a" stroke-width="0.5"/>
<text transform="translate(427.66 615.79) rotate(-60)" x="0" y="1.66" font-size="4.6" text-anchor="middle" fill="#000" stroke="#000" stroke-width="0.2">G17</text>
<line x1="449.51" x2="449.51" y1="607.9" y2="610.30" stroke="#4a4a4a" stroke-width="0.5"/>
<text transform="translate(449.51 619.29) rotate(-60)" x="0" y="1.66" font-size="4.6" text-anchor="middle" fill="#000" stroke="#000" stroke-width="0.2">DTA-BD</text>
<line x1="471.37" x2="471.37" y1="607.9" y2="610.30" stroke="#4a4a4a" stroke-width="0.5"/>
<text transform="translate(471.37 615.79) rotate(-60)" x="0" y="1.66" font-size="4.6" text-anchor="middle" fill="#000" stroke="#000" stroke-width="0.2">G25</text>
<line x1="493.23" x2="493.23" y1="607.9" y2="610.30" stroke="#4a4a4a" stroke-width="0.5"/>
<text transform="translate(493.23 615.79) rotate(-60)" x="0" y="1.66" font-size="4.6" text-anchor="middle" fill="#000" stroke="#000" stroke-width="0.2">G32</text>
<line x1="515.09" x2="515.09" y1="607.9" y2="610.30" stroke="#4a4a4a" stroke-width="0.5"/>
<text transform="translate(515.09 615.79) rotate(-60)" x="0" y="1.66" font-size="4.6" text-anchor="middle" fill="#000" stroke="#000" stroke-width="0.2">G21</text>
<line x1="536.94" x2="536.94" y1="607.9" y2="610.30" stroke="#4a4a4a" stroke-width="0.5"/>
<text transform="translate(536.94 615.79) rotate(-60)" x="0" y="1.66" font-size="4.6" text-anchor="middle" fill="#000" stroke="#000" stroke-width="0.2">G28</text>
<line x1="558.80" x2="558.80" y1="607.9" y2="610.30" stroke="#4a4a4a" stroke-width="0.5"/>
<text transform="translate(558.80 615.79) rotate(-60)" x="0" y="1.66" font-size="4.6" text-anchor="middle" fill="#000" stroke="#000" stroke-width="0.2">G14</text>
<line x1="580.66" x2="580.66" y1="607.9" y2="610.30" stroke="#4a4a4a" stroke-width="0.5"/>
<text transform="translate(580.66 614.68) rotate(-60)" x="0" y="1.66" font-size="4.6" text-anchor="middle" fill="#000" stroke="#000" stroke-width="0.2">G8</text>
<line x1="602.51" x2="602.51" y1="607.9" y2="610.30" stroke="#4a4a4a" stroke-width="0.5"/>
<text transform="translate(602.51 614.68) rotate(-60)" x="0" y="1.66" font-size="4.6" text-anchor="middle" fill="#000" stroke="#000" stroke-width="0.2">G6</text>
<line x1="624.37" x2="624.37" y1="607.9" y2="610.30" stroke="#4a4a4a" stroke-width="0.5"/>
<text transform="translate(624.37 615.79) rotate(-60)" x="0" y="1.66" font-size="4.6" text-anchor="middle" fill="#000" stroke="#000" stroke-width="0.2">G12</text>
<line x1="22.95" x2="635.65" y1="607.9" y2="607.9" stroke="#111" stroke-width="1.6"/>
<text x="23.00" y="485.0" font-size="14.5" font-weight="bold" textLength="13.30" lengthAdjust="spacingAndGlyphs" fill="#000">D:</text>
<text x="40.00" y="485.0" font-size="14.5" textLength="69.30" lengthAdjust="spacingAndGlyphs" fill="#3c3c3c">Component</text>
<text x="112.30" y="485.0" font-size="14.5" textLength="37.38" lengthAdjust="spacingAndGlyphs" fill="#3c3c3c">Model</text>
<text x="153.30" y="485.0" font-size="14.5" textLength="75.50" lengthAdjust="spacingAndGlyphs" fill="#3c3c3c">Performance</text>
<text x="232.20" y="485.0" font-size="14.5" textLength="14.23" lengthAdjust="spacingAndGlyphs" fill="#3c3c3c">on</text>
<text x="249.50" y="485.0" font-size="14.5" textLength="18.00" lengthAdjust="spacingAndGlyphs" fill="#3c3c3c">the</text>
<text x="272.20" y="485.0" font-size="14.5" textLength="56.26" lengthAdjust="spacingAndGlyphs" fill="#3c3c3c">DeepDTA</text>
<text x="332.70" y="485.0" font-size="14.5" textLength="43.62" lengthAdjust="spacingAndGlyphs" fill="#3c3c3c">Defined</text>
<text x="381.30" y="485.0" font-size="14.5" textLength="22.79" lengthAdjust="spacingAndGlyphs" fill="#3c3c3c">Test</text>
<text x="408.55" y="485.0" font-size="14.5" textLength="19.11" lengthAdjust="spacingAndGlyphs" fill="#3c3c3c">Set</text>
<text x="431.85" y="485.0" font-size="14.5" textLength="59.13" lengthAdjust="spacingAndGlyphs" fill="#3c3c3c">Measured</text>
<text x="494.75" y="485.0" font-size="14.5" textLength="13.82" lengthAdjust="spacingAndGlyphs" fill="#3c3c3c">by</text>
<text x="513.20" y="485.0" font-size="14.5" textLength="35.79" lengthAdjust="spacingAndGlyphs" fill="#3c3c3c">RMSE</text>
<text transform="translate(8.0 548.40) rotate(-90)" font-size="11.7" text-anchor="middle" textLength="119.2" lengthAdjust="spacingAndGlyphs" fill="#3c3c3c">Root Mean Squared Error</text>
<line x1="639.1" x2="639.1" y1="578.5" y2="603.60" stroke="#b4b4b4" stroke-width="0.6"/>
<path d="M639.1 606.6 L641.1 602.0 L637.1 602.0 Z" fill="#b4b4b4"/>
<line x1="637.6" x2="640.6" y1="578.5" y2="578.5" stroke="#b4b4b4" stroke-width="0.6"/>
<text transform="translate(644.9 590.45) rotate(-90)" font-size="5.9" font-style="italic" text-anchor="middle" fill="#a6a6a6">Better</text>
<rect x="638.4" y="518.2" width="60" height="52.20" fill="#fff" stroke="#d0d0d0" stroke-width="0.6" rx="0.8"/>
<rect x="641.7" y="520.90" width="11.2" height="5.6" fill="#6599ec"/>
<text x="654.8" y="525.80" font-size="6" fill="#111" stroke="#000" stroke-width="0.28">CM-NM</text>
<rect x="641.7" y="528.95" width="11.2" height="5.6" fill="#f683bf"/>
<text x="654.8" y="533.85" font-size="6" fill="#111" stroke="#000" stroke-width="0.28">CM-RP</text>
<rect x="641.7" y="537.00" width="11.2" height="5.6" fill="#c4c4c4"/>
<text x="654.8" y="541.90" font-size="6" fill="#111" stroke="#000" stroke-width="0.28">SOTA-NM</text>
<rect x="641.7" y="545.05" width="11.2" height="5.6" fill="#8e8e8e"/>
<text x="654.8" y="549.95" font-size="6" fill="#111" stroke="#000" stroke-width="0.28">SOTA-RP</text>
<rect x="642.1" y="553.50" width="10.4" height="4.8" fill="#fff" stroke="#000" stroke-width="1"/>
<text x="654.8" y="558.00" font-size="6" fill="#111" stroke="#000" stroke-width="0.28">MUSDTI*</text>
<rect x="641.7" y="561.15" width="11.2" height="5.6" fill="#000"/>
<text x="654.8" y="566.05" font-size="6" fill="#111" stroke="#000" stroke-width="0.28">MUSDTI</text>
<text x="253.7" y="635.9" font-size="9.6" textLength="186.3" lengthAdjust="spacingAndGlyphs" fill="#3c3c3c">DTI Predictors Ordered by RP Performance</text>
<line x1="219" x2="248.6" y1="632.9" y2="632.9" stroke="#b4b4b4" stroke-width="0.6"/>
<line x1="248.6" x2="248.6" y1="630.7" y2="635.0" stroke="#b4b4b4" stroke-width="0.6"/>
<path d="M215.9 632.9 L220.5 630.9 L220.5 634.9 Z" fill="#b4b4b4"/>
<text x="233.9" y="641.3" font-size="6.9" font-style="italic" text-anchor="middle" fill="#a6a6a6">Better</text>
<line x1="445.6" x2="475" y1="632.9" y2="632.9" stroke="#b4b4b4" stroke-width="0.6"/>
<line x1="445.6" x2="445.6" y1="630.7" y2="635.0" stroke="#b4b4b4" stroke-width="0.6"/>
<path d="M478.3 632.9 L473.7 630.9 L473.7 634.9 Z" fill="#b4b4b4"/>
<text x="459.7" y="641.3" font-size="6.9" font-style="italic" text-anchor="middle" fill="#a6a6a6">Worse</text>
</svg>
</body></html>
